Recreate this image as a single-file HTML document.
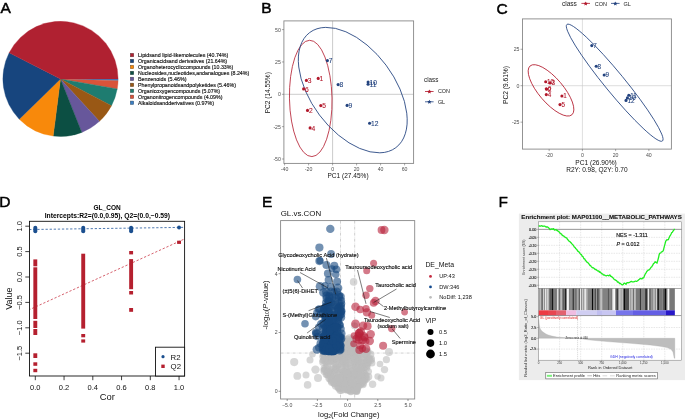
<!DOCTYPE html>
<html><head><meta charset="utf-8"><style>
html,body{margin:0;padding:0;background:#fff;width:685px;height:420px;overflow:hidden}
svg{display:block;font-family:"Liberation Sans", sans-serif;will-change:transform}
</style></head><body>
<svg width="685" height="420" viewBox="0 0 685 420">
<path d="M60.5,78.9 L118.10,78.90 A57.6,57.6 0 0 1 118.07,80.71 Z" fill="#3B7FC4" stroke="#3B7FC4" stroke-width="0.35" stroke-linejoin="round"/>
<path d="M60.5,78.9 L118.07,80.71 A57.6,57.6 0 0 1 117.22,88.90 Z" fill="#D9533A" stroke="#D9533A" stroke-width="0.35" stroke-linejoin="round"/>
<path d="M60.5,78.9 L117.22,88.90 A57.6,57.6 0 0 1 111.50,105.67 Z" fill="#1E7C70" stroke="#1E7C70" stroke-width="0.35" stroke-linejoin="round"/>
<path d="M60.5,78.9 L111.50,105.67 A57.6,57.6 0 0 1 99.41,121.37 Z" fill="#995815" stroke="#995815" stroke-width="0.35" stroke-linejoin="round"/>
<path d="M60.5,78.9 L99.41,121.37 A57.6,57.6 0 0 1 81.80,132.42 Z" fill="#67579B" stroke="#67579B" stroke-width="0.35" stroke-linejoin="round"/>
<path d="M60.5,78.9 L81.80,132.42 A57.6,57.6 0 0 1 53.18,136.03 Z" fill="#0C4F43" stroke="#0C4F43" stroke-width="0.35" stroke-linejoin="round"/>
<path d="M60.5,78.9 L53.18,136.03 A57.6,57.6 0 0 1 19.28,119.13 Z" fill="#F8890B" stroke="#F8890B" stroke-width="0.35" stroke-linejoin="round"/>
<path d="M60.5,78.9 L19.28,119.13 A57.6,57.6 0 0 1 9.18,52.75 Z" fill="#17457E" stroke="#17457E" stroke-width="0.35" stroke-linejoin="round"/>
<path d="M60.5,78.9 L9.18,52.75 A57.6,57.6 0 0 1 118.10,78.90 Z" fill="#B02131" stroke="#B02131" stroke-width="0.35" stroke-linejoin="round"/>
<text x="0.50" y="13.40" font-size="15.5" fill="#000" text-anchor="start" stroke="#000" stroke-width="0.5">A</text>
<rect x="130.2" y="53.25" width="3.6" height="3.6" fill="#B02131" stroke="#444" stroke-width="0.35"/>
<text x="138.00" y="56.85" font-size="5.1" fill="#111" text-anchor="start" stroke="#111" stroke-width="0.14" textLength="90.3" lengthAdjust="spacingAndGlyphs">Lipidsand lipid-likemolecules (40.74%)</text>
<rect x="130.2" y="59.22" width="3.6" height="3.6" fill="#17457E" stroke="#444" stroke-width="0.35"/>
<text x="138.00" y="62.82" font-size="5.1" fill="#111" text-anchor="start" stroke="#111" stroke-width="0.14" textLength="89.1" lengthAdjust="spacingAndGlyphs">Organicacidsand derivatives (21.64%)</text>
<rect x="130.2" y="65.19" width="3.6" height="3.6" fill="#F8890B" stroke="#444" stroke-width="0.35"/>
<text x="138.00" y="68.79" font-size="5.1" fill="#111" text-anchor="start" stroke="#111" stroke-width="0.14" textLength="95.2" lengthAdjust="spacingAndGlyphs">Organoheterocycliccompounds (10.33%)</text>
<rect x="130.2" y="71.16" width="3.6" height="3.6" fill="#0C4F43" stroke="#444" stroke-width="0.35"/>
<text x="138.00" y="74.76" font-size="5.1" fill="#111" text-anchor="start" stroke="#111" stroke-width="0.14" textLength="111.2" lengthAdjust="spacingAndGlyphs">Nucleosides,nucleotides,andanalogues (8.24%)</text>
<rect x="130.2" y="77.13" width="3.6" height="3.6" fill="#67579B" stroke="#444" stroke-width="0.35"/>
<text x="138.00" y="80.73" font-size="5.1" fill="#111" text-anchor="start" stroke="#111" stroke-width="0.14" textLength="48.6" lengthAdjust="spacingAndGlyphs">Benzenoids (5.46%)</text>
<rect x="130.2" y="83.10" width="3.6" height="3.6" fill="#995815" stroke="#444" stroke-width="0.35"/>
<text x="138.00" y="86.70" font-size="5.1" fill="#111" text-anchor="start" stroke="#111" stroke-width="0.14" textLength="97.9" lengthAdjust="spacingAndGlyphs">Phenylpropanoidsandpolyketides (5.46%)</text>
<rect x="130.2" y="89.07" width="3.6" height="3.6" fill="#1E7C70" stroke="#444" stroke-width="0.35"/>
<text x="138.00" y="92.67" font-size="5.1" fill="#111" text-anchor="start" stroke="#111" stroke-width="0.14" textLength="82.1" lengthAdjust="spacingAndGlyphs">Organicoxygencompounds (5.07%)</text>
<rect x="130.2" y="95.04" width="3.6" height="3.6" fill="#D9533A" stroke="#444" stroke-width="0.35"/>
<text x="138.00" y="98.64" font-size="5.1" fill="#111" text-anchor="start" stroke="#111" stroke-width="0.14" textLength="84.5" lengthAdjust="spacingAndGlyphs">Organonitrogencompounds (4.09%)</text>
<rect x="130.2" y="101.01" width="3.6" height="3.6" fill="#3B7FC4" stroke="#444" stroke-width="0.35"/>
<text x="138.00" y="104.61" font-size="5.1" fill="#111" text-anchor="start" stroke="#111" stroke-width="0.14" textLength="76.0" lengthAdjust="spacingAndGlyphs">Alkaloidsandderivatives (0.97%)</text>
<text x="261.20" y="13.10" font-size="15.5" fill="#000" text-anchor="start" stroke="#000" stroke-width="0.5">B</text>
<line x1="332.6" y1="20.9" x2="332.6" y2="163.4" stroke="#A8A8A8" stroke-width="0.6"/>
<line x1="283.9" y1="94.3" x2="413.6" y2="94.3" stroke="#A8A8A8" stroke-width="0.6"/>
<ellipse cx="310.73" cy="98.44" rx="21.28" ry="58.16" transform="rotate(-1.17 310.73 98.44)" fill="none" stroke="#B2182B" stroke-width="0.8"/>
<ellipse cx="352.76" cy="90.1" rx="71.89" ry="41.6" transform="rotate(53.2 352.76 90.1)" fill="none" stroke="#23437F" stroke-width="0.8"/>
<rect x="283.9" y="20.9" width="129.70000000000005" height="142.5" fill="none" stroke="#888" stroke-width="0.9"/>
<line x1="281.9" y1="29.60" x2="283.9" y2="29.60" stroke="#555" stroke-width="0.5"/>
<text x="280.90" y="31.50" font-size="5.2" fill="#4D4D4D" text-anchor="end">50</text>
<line x1="281.9" y1="61.95" x2="283.9" y2="61.95" stroke="#555" stroke-width="0.5"/>
<text x="280.90" y="63.85" font-size="5.2" fill="#4D4D4D" text-anchor="end">25</text>
<line x1="281.9" y1="94.30" x2="283.9" y2="94.30" stroke="#555" stroke-width="0.5"/>
<text x="280.90" y="96.20" font-size="5.2" fill="#4D4D4D" text-anchor="end">0</text>
<line x1="281.9" y1="126.65" x2="283.9" y2="126.65" stroke="#555" stroke-width="0.5"/>
<text x="280.90" y="128.55" font-size="5.2" fill="#4D4D4D" text-anchor="end">-25</text>
<line x1="281.9" y1="159.00" x2="283.9" y2="159.00" stroke="#555" stroke-width="0.5"/>
<text x="280.90" y="160.90" font-size="5.2" fill="#4D4D4D" text-anchor="end">-50</text>
<line x1="284.60" y1="163.4" x2="284.60" y2="165.4" stroke="#555" stroke-width="0.5"/>
<text x="284.60" y="171.40" font-size="5.2" fill="#4D4D4D" text-anchor="middle">-40</text>
<line x1="308.60" y1="163.4" x2="308.60" y2="165.4" stroke="#555" stroke-width="0.5"/>
<text x="308.60" y="171.40" font-size="5.2" fill="#4D4D4D" text-anchor="middle">-20</text>
<line x1="332.60" y1="163.4" x2="332.60" y2="165.4" stroke="#555" stroke-width="0.5"/>
<text x="332.60" y="171.40" font-size="5.2" fill="#4D4D4D" text-anchor="middle">0</text>
<line x1="356.60" y1="163.4" x2="356.60" y2="165.4" stroke="#555" stroke-width="0.5"/>
<text x="356.60" y="171.40" font-size="5.2" fill="#4D4D4D" text-anchor="middle">20</text>
<line x1="380.60" y1="163.4" x2="380.60" y2="165.4" stroke="#555" stroke-width="0.5"/>
<text x="380.60" y="171.40" font-size="5.2" fill="#4D4D4D" text-anchor="middle">40</text>
<line x1="404.60" y1="163.4" x2="404.60" y2="165.4" stroke="#555" stroke-width="0.5"/>
<text x="404.60" y="171.40" font-size="5.2" fill="#4D4D4D" text-anchor="middle">60</text>
<text x="348.00" y="178.00" font-size="6.6" fill="#111" text-anchor="middle" textLength="41.2" lengthAdjust="spacingAndGlyphs">PC1 (27.45%)</text>
<text x="270.40" y="92.70" font-size="6.6" fill="#111" text-anchor="middle" textLength="41.2" lengthAdjust="spacingAndGlyphs" transform="rotate(-90 270.40 92.70)">PC2 (14.55%)</text>
<circle cx="318.2" cy="78.4" r="1.55" fill="#B2182B"/>
<text x="319.60" y="81.00" font-size="6.7" fill="#B2182B" text-anchor="start" stroke="#B2182B" stroke-width="0.1">1</text>
<circle cx="307.5" cy="110.4" r="1.55" fill="#B2182B"/>
<text x="308.90" y="113.00" font-size="6.7" fill="#B2182B" text-anchor="start" stroke="#B2182B" stroke-width="0.1">2</text>
<circle cx="306.4" cy="80.4" r="1.55" fill="#B2182B"/>
<text x="307.80" y="83.00" font-size="6.7" fill="#B2182B" text-anchor="start" stroke="#B2182B" stroke-width="0.1">3</text>
<circle cx="310.1" cy="127.9" r="1.55" fill="#B2182B"/>
<text x="311.50" y="130.50" font-size="6.7" fill="#B2182B" text-anchor="start" stroke="#B2182B" stroke-width="0.1">4</text>
<circle cx="320.8" cy="105.6" r="1.55" fill="#B2182B"/>
<text x="322.20" y="108.20" font-size="6.7" fill="#B2182B" text-anchor="start" stroke="#B2182B" stroke-width="0.1">5</text>
<circle cx="303.6" cy="88.9" r="1.55" fill="#B2182B"/>
<text x="305.00" y="91.50" font-size="6.7" fill="#B2182B" text-anchor="start" stroke="#B2182B" stroke-width="0.1">6</text>
<circle cx="327.4" cy="60.6" r="1.55" fill="#23437F"/>
<text x="328.80" y="63.20" font-size="6.7" fill="#23437F" text-anchor="start" stroke="#23437F" stroke-width="0.1">7</text>
<circle cx="338.1" cy="84.6" r="1.55" fill="#23437F"/>
<text x="339.50" y="87.20" font-size="6.7" fill="#23437F" text-anchor="start" stroke="#23437F" stroke-width="0.1">8</text>
<circle cx="347.1" cy="105.4" r="1.55" fill="#23437F"/>
<text x="348.50" y="108.00" font-size="6.7" fill="#23437F" text-anchor="start" stroke="#23437F" stroke-width="0.1">9</text>
<circle cx="368.1" cy="82.0" r="1.55" fill="#23437F"/>
<text x="369.50" y="84.60" font-size="6.7" fill="#23437F" text-anchor="start" stroke="#23437F" stroke-width="0.1">10</text>
<circle cx="368.1" cy="84.2" r="1.55" fill="#23437F"/>
<text x="369.50" y="86.80" font-size="6.7" fill="#23437F" text-anchor="start" stroke="#23437F" stroke-width="0.1">11</text>
<circle cx="369.6" cy="123.2" r="1.55" fill="#23437F"/>
<text x="371.00" y="125.80" font-size="6.7" fill="#23437F" text-anchor="start" stroke="#23437F" stroke-width="0.1">12</text>
<text x="424.00" y="81.80" font-size="6.4" fill="#222" text-anchor="start" textLength="14.4" lengthAdjust="spacingAndGlyphs">class</text>
<line x1="425" y1="91.5" x2="433.6" y2="91.5" stroke="#B2182B" stroke-width="0.8"/>
<polygon points="429.40,89.40 430.05,90.81 431.59,90.99 430.45,92.04 430.75,93.56 429.40,92.80 428.05,93.56 428.35,92.04 427.21,90.99 428.75,90.81" fill="#B2182B"/>
<text x="437.90" y="93.45" font-size="5.4" fill="#222" text-anchor="start">CON</text>
<line x1="425" y1="101.8" x2="433.6" y2="101.8" stroke="#23437F" stroke-width="0.8"/>
<polygon points="429.40,99.70 430.05,101.11 431.59,101.29 430.45,102.34 430.75,103.86 429.40,103.10 428.05,103.86 428.35,102.34 427.21,101.29 428.75,101.11" fill="#23437F"/>
<text x="437.90" y="103.75" font-size="5.4" fill="#222" text-anchor="start">GL</text>
<text x="496.60" y="13.90" font-size="15.5" fill="#000" text-anchor="start" stroke="#000" stroke-width="0.5">C</text>
<line x1="582.4" y1="18.9" x2="582.4" y2="149.1" stroke="#C8C8C8" stroke-width="0.6"/>
<line x1="522.5" y1="85.7" x2="671.4" y2="85.7" stroke="#C8C8C8" stroke-width="0.6"/>
<ellipse cx="551.01" cy="90.36" rx="32.15" ry="12.22" transform="rotate(49.5 551.01 90.36)" fill="none" stroke="#B2182B" stroke-width="0.8"/>
<ellipse cx="614.69" cy="82.71" rx="75.34" ry="9.84" transform="rotate(50.64 614.69 82.71)" fill="none" stroke="#23437F" stroke-width="0.8"/>
<rect x="522.5" y="18.9" width="148.89999999999998" height="130.2" fill="none" stroke="#888" stroke-width="0.9"/>
<line x1="520.5" y1="49.25" x2="522.5" y2="49.25" stroke="#555" stroke-width="0.5"/>
<text x="519.50" y="51.15" font-size="5.2" fill="#4D4D4D" text-anchor="end">25</text>
<line x1="520.5" y1="85.70" x2="522.5" y2="85.70" stroke="#555" stroke-width="0.5"/>
<text x="519.50" y="87.60" font-size="5.2" fill="#4D4D4D" text-anchor="end">0</text>
<line x1="520.5" y1="122.15" x2="522.5" y2="122.15" stroke="#555" stroke-width="0.5"/>
<text x="519.50" y="124.05" font-size="5.2" fill="#4D4D4D" text-anchor="end">-25</text>
<line x1="549.16" y1="149.1" x2="549.16" y2="151.1" stroke="#555" stroke-width="0.5"/>
<text x="549.16" y="157.10" font-size="5.2" fill="#4D4D4D" text-anchor="middle">-20</text>
<line x1="582.40" y1="149.1" x2="582.40" y2="151.1" stroke="#555" stroke-width="0.5"/>
<text x="582.40" y="157.10" font-size="5.2" fill="#4D4D4D" text-anchor="middle">0</text>
<line x1="615.64" y1="149.1" x2="615.64" y2="151.1" stroke="#555" stroke-width="0.5"/>
<text x="615.64" y="157.10" font-size="5.2" fill="#4D4D4D" text-anchor="middle">20</text>
<line x1="648.88" y1="149.1" x2="648.88" y2="151.1" stroke="#555" stroke-width="0.5"/>
<text x="648.88" y="157.10" font-size="5.2" fill="#4D4D4D" text-anchor="middle">40</text>
<text x="596.00" y="165.10" font-size="6.6" fill="#111" text-anchor="middle" textLength="41.5" lengthAdjust="spacingAndGlyphs">PC1 (26.90%)</text>
<text x="596.90" y="172.20" font-size="6.6" fill="#111" text-anchor="middle" textLength="61.4" lengthAdjust="spacingAndGlyphs">R2Y: 0.98, Q2Y: 0.70</text>
<text x="507.60" y="85.00" font-size="6.6" fill="#111" text-anchor="middle" textLength="37.8" lengthAdjust="spacingAndGlyphs" transform="rotate(-90 507.60 85.00)">PC2 (9.61%)</text>
<circle cx="550.0" cy="82.9" r="1.55" fill="#B2182B"/>
<text x="551.40" y="85.25" font-size="6.3" fill="#B2182B" text-anchor="start" stroke="#B2182B" stroke-width="0.1">3</text>
<circle cx="545.7" cy="81.7" r="1.55" fill="#B2182B"/>
<text x="547.10" y="84.05" font-size="6.3" fill="#B2182B" text-anchor="start" stroke="#B2182B" stroke-width="0.1">10</text>
<circle cx="546.3" cy="88.7" r="1.55" fill="#B2182B"/>
<text x="547.70" y="91.05" font-size="6.3" fill="#B2182B" text-anchor="start" stroke="#B2182B" stroke-width="0.1">6</text>
<circle cx="546.6" cy="89.3" r="1.55" fill="#B2182B"/>
<text x="548.00" y="91.65" font-size="6.3" fill="#B2182B" text-anchor="start" stroke="#B2182B" stroke-width="0.1">2</text>
<circle cx="546.3" cy="94.6" r="1.55" fill="#B2182B"/>
<text x="547.70" y="96.95" font-size="6.3" fill="#B2182B" text-anchor="start" stroke="#B2182B" stroke-width="0.1">4</text>
<circle cx="561.9" cy="96.0" r="1.55" fill="#B2182B"/>
<text x="563.30" y="98.35" font-size="6.3" fill="#B2182B" text-anchor="start" stroke="#B2182B" stroke-width="0.1">1</text>
<circle cx="560.0" cy="104.6" r="1.55" fill="#B2182B"/>
<text x="561.40" y="106.95" font-size="6.3" fill="#B2182B" text-anchor="start" stroke="#B2182B" stroke-width="0.1">5</text>
<circle cx="591.8" cy="45.6" r="1.55" fill="#23437F"/>
<text x="593.20" y="47.95" font-size="6.3" fill="#23437F" text-anchor="start" stroke="#23437F" stroke-width="0.1">7</text>
<circle cx="596.2" cy="66.3" r="1.55" fill="#23437F"/>
<text x="597.60" y="68.65" font-size="6.3" fill="#23437F" text-anchor="start" stroke="#23437F" stroke-width="0.1">8</text>
<circle cx="604.2" cy="75.0" r="1.55" fill="#23437F"/>
<text x="605.60" y="77.35" font-size="6.3" fill="#23437F" text-anchor="start" stroke="#23437F" stroke-width="0.1">9</text>
<circle cx="628.8" cy="95.3" r="1.55" fill="#23437F"/>
<text x="630.20" y="97.65" font-size="6.3" fill="#23437F" text-anchor="start" stroke="#23437F" stroke-width="0.1">11</text>
<circle cx="627.4" cy="97.9" r="1.55" fill="#23437F"/>
<text x="628.80" y="100.25" font-size="6.3" fill="#23437F" text-anchor="start" stroke="#23437F" stroke-width="0.1">10</text>
<circle cx="626.0" cy="100.4" r="1.55" fill="#23437F"/>
<text x="627.40" y="102.75" font-size="6.3" fill="#23437F" text-anchor="start" stroke="#23437F" stroke-width="0.1">12</text>
<text x="561.90" y="5.80" font-size="6.6" fill="#222" text-anchor="start" textLength="15.0" lengthAdjust="spacingAndGlyphs">class</text>
<line x1="581.4" y1="3.4" x2="590.0" y2="3.4" stroke="#B2182B" stroke-width="0.8"/>
<polygon points="585.70,1.40 586.35,2.81 587.89,2.99 586.75,4.04 587.05,5.56 585.70,4.80 584.35,5.56 584.65,4.04 583.51,2.99 585.05,2.81" fill="#B2182B"/>
<text x="594.70" y="5.60" font-size="5.5" fill="#222" text-anchor="start">CON</text>
<line x1="611" y1="3.4" x2="619.6" y2="3.4" stroke="#23437F" stroke-width="0.8"/>
<polygon points="615.30,1.40 615.95,2.81 617.49,2.99 616.35,4.04 616.65,5.56 615.30,4.80 613.95,5.56 614.25,4.04 613.11,2.99 614.65,2.81" fill="#23437F"/>
<text x="623.60" y="5.60" font-size="5.5" fill="#222" text-anchor="start">GL</text>
<text x="-0.80" y="206.90" font-size="15.5" fill="#000" text-anchor="start" stroke="#000" stroke-width="0.5">D</text>
<text x="107.10" y="210.20" font-size="6.6" fill="#000" text-anchor="middle" font-weight="bold" textLength="27.2" lengthAdjust="spacingAndGlyphs">GL_CON</text>
<text x="107.40" y="217.70" font-size="6.6" fill="#000" text-anchor="middle" font-weight="bold" textLength="125.4" lengthAdjust="spacingAndGlyphs">Intercepts:R2=(0.0,0.95), Q2=(0.0,−0.59)</text>
<clipPath id="cd"><rect x="29.5" y="221.3" width="155.1" height="154.7"/></clipPath>
<line x1="20.92" y1="229.65" x2="193.43" y2="227.22" stroke="#3D6BA8" stroke-width="0.9" stroke-dasharray="2.3 1.8" clip-path="url(#cd)"/>
<line x1="20.92" y1="313.53" x2="193.43" y2="234.89" stroke="#D0505E" stroke-width="0.9" stroke-dasharray="2.3 1.8" clip-path="url(#cd)"/>
<rect x="33.35" y="259.40" width="3.9" height="6.90" fill="#B5202F"/>
<rect x="33.35" y="267.30" width="3.9" height="51.70" fill="#B5202F"/>
<rect x="33.35" y="320.80" width="3.9" height="7.20" fill="#B5202F"/>
<rect x="33.35" y="329.00" width="3.9" height="6.00" fill="#B5202F"/>
<rect x="33.35" y="353.30" width="3.9" height="4.70" fill="#B5202F"/>
<rect x="33.35" y="362.30" width="3.9" height="3.50" fill="#B5202F"/>
<rect x="33.35" y="368.80" width="3.9" height="3.40" fill="#B5202F"/>
<rect x="81.27" y="253.70" width="3.9" height="74.90" fill="#B5202F"/>
<rect x="81.27" y="334.00" width="3.9" height="3.30" fill="#B5202F"/>
<rect x="81.27" y="339.40" width="3.9" height="3.20" fill="#B5202F"/>
<rect x="129.18" y="251.00" width="3.9" height="3.40" fill="#B5202F"/>
<rect x="129.18" y="259.10" width="3.9" height="30.10" fill="#B5202F"/>
<rect x="129.18" y="291.00" width="3.9" height="3.50" fill="#B5202F"/>
<rect x="129.18" y="308.00" width="3.9" height="3.80" fill="#B5202F"/>
<rect x="177.10" y="240.70" width="3.9" height="3.20" fill="#B5202F"/>
<rect x="33.30" y="225.8" width="4.0" height="7.4" rx="2.0" fill="#1B4F8F"/>
<rect x="81.22" y="225.8" width="4.0" height="7.4" rx="2.0" fill="#1B4F8F"/>
<rect x="129.13" y="225.8" width="4.0" height="7.4" rx="2.0" fill="#1B4F8F"/>
<circle cx="179.05" cy="227.5" r="1.95" fill="#1B4F8F"/>
<rect x="29.5" y="221.3" width="155.1" height="154.7" fill="none" stroke="#111" stroke-width="0.9"/>
<rect x="155.5" y="347.2" width="29.099999999999994" height="28.80000000000001" fill="#fff" stroke="#111" stroke-width="0.9"/>
<circle cx="163" cy="356.7" r="1.6" fill="#1B4F8F"/>
<rect x="161.3" y="364.6" width="3.4" height="3.4" fill="#B5202F"/>
<text x="170.60" y="359.60" font-size="7.8" fill="#111" text-anchor="start">R2</text>
<text x="170.60" y="369.20" font-size="7.8" fill="#111" text-anchor="start">Q2</text>
<line x1="35.30" y1="376.0" x2="35.30" y2="380.2" stroke="#111" stroke-width="0.8"/>
<text x="35.30" y="389.80" font-size="7.5" fill="#111" text-anchor="middle">0.0</text>
<line x1="64.05" y1="376.0" x2="64.05" y2="380.2" stroke="#111" stroke-width="0.8"/>
<text x="64.05" y="389.80" font-size="7.5" fill="#111" text-anchor="middle">0.2</text>
<line x1="92.80" y1="376.0" x2="92.80" y2="380.2" stroke="#111" stroke-width="0.8"/>
<text x="92.80" y="389.80" font-size="7.5" fill="#111" text-anchor="middle">0.4</text>
<line x1="121.55" y1="376.0" x2="121.55" y2="380.2" stroke="#111" stroke-width="0.8"/>
<text x="121.55" y="389.80" font-size="7.5" fill="#111" text-anchor="middle">0.6</text>
<line x1="150.30" y1="376.0" x2="150.30" y2="380.2" stroke="#111" stroke-width="0.8"/>
<text x="150.30" y="389.80" font-size="7.5" fill="#111" text-anchor="middle">0.8</text>
<line x1="179.05" y1="376.0" x2="179.05" y2="380.2" stroke="#111" stroke-width="0.8"/>
<text x="179.05" y="389.80" font-size="7.5" fill="#111" text-anchor="middle">1.0</text>
<line x1="25.3" y1="226.20" x2="29.5" y2="226.20" stroke="#111" stroke-width="0.8"/>
<text x="21.90" y="226.20" font-size="7.5" fill="#111" text-anchor="middle" transform="rotate(-90 21.90 226.20)">1.0</text>
<line x1="25.3" y1="251.60" x2="29.5" y2="251.60" stroke="#111" stroke-width="0.8"/>
<text x="21.90" y="251.60" font-size="7.5" fill="#111" text-anchor="middle" transform="rotate(-90 21.90 251.60)">0.5</text>
<line x1="25.3" y1="277.00" x2="29.5" y2="277.00" stroke="#111" stroke-width="0.8"/>
<text x="21.90" y="277.00" font-size="7.5" fill="#111" text-anchor="middle" transform="rotate(-90 21.90 277.00)">0.0</text>
<line x1="25.3" y1="302.40" x2="29.5" y2="302.40" stroke="#111" stroke-width="0.8"/>
<text x="21.90" y="302.40" font-size="7.5" fill="#111" text-anchor="middle" transform="rotate(-90 21.90 302.40)">−0.5</text>
<line x1="25.3" y1="327.80" x2="29.5" y2="327.80" stroke="#111" stroke-width="0.8"/>
<text x="21.90" y="327.80" font-size="7.5" fill="#111" text-anchor="middle" transform="rotate(-90 21.90 327.80)">−1.0</text>
<line x1="25.3" y1="353.20" x2="29.5" y2="353.20" stroke="#111" stroke-width="0.8"/>
<text x="21.90" y="353.20" font-size="7.5" fill="#111" text-anchor="middle" transform="rotate(-90 21.90 353.20)">−1.5</text>
<text x="107.30" y="399.70" font-size="9.4" fill="#111" text-anchor="middle">Cor</text>
<text x="12.00" y="298.60" font-size="9.0" fill="#111" text-anchor="middle" transform="rotate(-90 12.00 298.60)">Value</text>
<text x="262.00" y="206.90" font-size="15.5" fill="#000" text-anchor="start" stroke="#000" stroke-width="0.5">E</text>
<text x="280.70" y="215.80" font-size="8.1" fill="#111" text-anchor="start" textLength="40.4" lengthAdjust="spacingAndGlyphs">GL.vs.CON</text>
<clipPath id="ce"><rect x="280.6" y="220.6" width="134.1" height="178.4"/></clipPath>
<g clip-path="url(#ce)">
<line x1="340.53" y1="220.6" x2="340.53" y2="399.0" stroke="#B0B0B0" stroke-width="0.6" stroke-dasharray="3 1.2 0.6 1.2"/>
<line x1="354.67" y1="220.6" x2="354.67" y2="399.0" stroke="#B0B0B0" stroke-width="0.6" stroke-dasharray="3 1.2 0.6 1.2"/>
<line x1="280.6" y1="353.05" x2="414.7" y2="353.05" stroke="#B0B0B0" stroke-width="0.6" stroke-dasharray="3 1.2 0.6 1.2"/>
<circle cx="350.4" cy="368.5" r="3.7" fill="#BDBDBD" fill-opacity="0.6"/>
<circle cx="347.6" cy="387.9" r="3.9" fill="#BDBDBD" fill-opacity="0.6"/>
<circle cx="351.8" cy="370.8" r="4.0" fill="#BDBDBD" fill-opacity="0.6"/>
<circle cx="347.5" cy="357.6" r="3.6" fill="#BDBDBD" fill-opacity="0.6"/>
<circle cx="360.4" cy="375.8" r="3.6" fill="#BDBDBD" fill-opacity="0.6"/>
<circle cx="337.1" cy="353.9" r="3.3" fill="#BDBDBD" fill-opacity="0.6"/>
<circle cx="361.7" cy="353.7" r="3.9" fill="#BDBDBD" fill-opacity="0.6"/>
<circle cx="329.5" cy="378.4" r="4.2" fill="#BDBDBD" fill-opacity="0.6"/>
<circle cx="356.7" cy="390.3" r="3.6" fill="#BDBDBD" fill-opacity="0.6"/>
<circle cx="352.7" cy="376.8" r="3.4" fill="#BDBDBD" fill-opacity="0.6"/>
<circle cx="322.6" cy="356.5" r="3.4" fill="#BDBDBD" fill-opacity="0.6"/>
<circle cx="326.7" cy="371.7" r="3.6" fill="#BDBDBD" fill-opacity="0.6"/>
<circle cx="334.0" cy="357.8" r="3.5" fill="#BDBDBD" fill-opacity="0.6"/>
<circle cx="344.9" cy="351.2" r="4.2" fill="#BDBDBD" fill-opacity="0.6"/>
<circle cx="364.2" cy="368.1" r="3.3" fill="#BDBDBD" fill-opacity="0.6"/>
<circle cx="354.3" cy="371.3" r="3.5" fill="#BDBDBD" fill-opacity="0.6"/>
<circle cx="355.4" cy="370.5" r="3.3" fill="#BDBDBD" fill-opacity="0.6"/>
<circle cx="336.5" cy="368.8" r="3.8" fill="#BDBDBD" fill-opacity="0.6"/>
<circle cx="356.6" cy="390.9" r="4.0" fill="#BDBDBD" fill-opacity="0.6"/>
<circle cx="354.4" cy="384.4" r="3.4" fill="#BDBDBD" fill-opacity="0.6"/>
<circle cx="333.8" cy="362.9" r="3.3" fill="#BDBDBD" fill-opacity="0.6"/>
<circle cx="325.8" cy="361.9" r="3.7" fill="#BDBDBD" fill-opacity="0.6"/>
<circle cx="344.6" cy="381.4" r="3.8" fill="#BDBDBD" fill-opacity="0.6"/>
<circle cx="344.9" cy="384.7" r="4.1" fill="#BDBDBD" fill-opacity="0.6"/>
<circle cx="355.3" cy="389.3" r="3.2" fill="#BDBDBD" fill-opacity="0.6"/>
<circle cx="333.7" cy="350.0" r="3.3" fill="#BDBDBD" fill-opacity="0.6"/>
<circle cx="347.6" cy="387.3" r="3.4" fill="#BDBDBD" fill-opacity="0.6"/>
<circle cx="346.7" cy="390.2" r="3.4" fill="#BDBDBD" fill-opacity="0.6"/>
<circle cx="352.8" cy="353.0" r="3.4" fill="#BDBDBD" fill-opacity="0.6"/>
<circle cx="340.2" cy="381.9" r="3.9" fill="#BDBDBD" fill-opacity="0.6"/>
<circle cx="338.6" cy="353.6" r="3.8" fill="#BDBDBD" fill-opacity="0.6"/>
<circle cx="353.4" cy="389.5" r="3.4" fill="#BDBDBD" fill-opacity="0.6"/>
<circle cx="334.1" cy="354.8" r="3.4" fill="#BDBDBD" fill-opacity="0.6"/>
<circle cx="325.2" cy="354.1" r="3.5" fill="#BDBDBD" fill-opacity="0.6"/>
<circle cx="337.5" cy="382.7" r="3.4" fill="#BDBDBD" fill-opacity="0.6"/>
<circle cx="345.2" cy="372.9" r="4.0" fill="#BDBDBD" fill-opacity="0.6"/>
<circle cx="358.4" cy="357.8" r="3.5" fill="#BDBDBD" fill-opacity="0.6"/>
<circle cx="354.0" cy="355.4" r="3.7" fill="#BDBDBD" fill-opacity="0.6"/>
<circle cx="342.8" cy="354.8" r="4.0" fill="#BDBDBD" fill-opacity="0.6"/>
<circle cx="335.5" cy="358.7" r="3.7" fill="#BDBDBD" fill-opacity="0.6"/>
<circle cx="354.1" cy="389.8" r="3.5" fill="#BDBDBD" fill-opacity="0.6"/>
<circle cx="366.2" cy="362.5" r="4.1" fill="#BDBDBD" fill-opacity="0.6"/>
<circle cx="341.7" cy="358.6" r="4.1" fill="#BDBDBD" fill-opacity="0.6"/>
<circle cx="352.4" cy="385.0" r="3.5" fill="#BDBDBD" fill-opacity="0.6"/>
<circle cx="370.7" cy="354.1" r="3.7" fill="#BDBDBD" fill-opacity="0.6"/>
<circle cx="334.9" cy="358.7" r="4.2" fill="#BDBDBD" fill-opacity="0.6"/>
<circle cx="342.2" cy="381.7" r="3.7" fill="#BDBDBD" fill-opacity="0.6"/>
<circle cx="326.0" cy="362.1" r="3.4" fill="#BDBDBD" fill-opacity="0.6"/>
<circle cx="350.7" cy="353.7" r="3.2" fill="#BDBDBD" fill-opacity="0.6"/>
<circle cx="352.0" cy="360.0" r="4.1" fill="#BDBDBD" fill-opacity="0.6"/>
<circle cx="345.0" cy="365.2" r="4.0" fill="#BDBDBD" fill-opacity="0.6"/>
<circle cx="348.1" cy="389.3" r="3.6" fill="#BDBDBD" fill-opacity="0.6"/>
<circle cx="364.3" cy="373.6" r="3.7" fill="#BDBDBD" fill-opacity="0.6"/>
<circle cx="329.6" cy="357.5" r="3.7" fill="#BDBDBD" fill-opacity="0.6"/>
<circle cx="356.0" cy="387.2" r="3.5" fill="#BDBDBD" fill-opacity="0.6"/>
<circle cx="331.6" cy="360.2" r="4.2" fill="#BDBDBD" fill-opacity="0.6"/>
<circle cx="364.3" cy="380.3" r="3.9" fill="#BDBDBD" fill-opacity="0.6"/>
<circle cx="369.3" cy="358.1" r="3.4" fill="#BDBDBD" fill-opacity="0.6"/>
<circle cx="351.0" cy="386.2" r="3.2" fill="#BDBDBD" fill-opacity="0.6"/>
<circle cx="327.9" cy="367.3" r="3.7" fill="#BDBDBD" fill-opacity="0.6"/>
<circle cx="367.8" cy="351.6" r="3.6" fill="#BDBDBD" fill-opacity="0.6"/>
<circle cx="357.2" cy="359.8" r="4.0" fill="#BDBDBD" fill-opacity="0.6"/>
<circle cx="363.1" cy="360.5" r="3.9" fill="#BDBDBD" fill-opacity="0.6"/>
<circle cx="338.5" cy="374.5" r="3.8" fill="#BDBDBD" fill-opacity="0.6"/>
<circle cx="357.8" cy="357.2" r="3.4" fill="#BDBDBD" fill-opacity="0.6"/>
<circle cx="333.8" cy="352.8" r="3.4" fill="#BDBDBD" fill-opacity="0.6"/>
<circle cx="363.9" cy="372.9" r="3.5" fill="#BDBDBD" fill-opacity="0.6"/>
<circle cx="338.1" cy="375.2" r="3.5" fill="#BDBDBD" fill-opacity="0.6"/>
<circle cx="341.5" cy="387.6" r="4.1" fill="#BDBDBD" fill-opacity="0.6"/>
<circle cx="336.2" cy="350.7" r="3.7" fill="#BDBDBD" fill-opacity="0.6"/>
<circle cx="325.8" cy="368.3" r="3.8" fill="#BDBDBD" fill-opacity="0.6"/>
<circle cx="340.3" cy="357.2" r="4.2" fill="#BDBDBD" fill-opacity="0.6"/>
<circle cx="330.9" cy="373.5" r="3.5" fill="#BDBDBD" fill-opacity="0.6"/>
<circle cx="366.5" cy="364.8" r="3.7" fill="#BDBDBD" fill-opacity="0.6"/>
<circle cx="351.3" cy="390.2" r="3.4" fill="#BDBDBD" fill-opacity="0.6"/>
<circle cx="351.3" cy="378.3" r="4.0" fill="#BDBDBD" fill-opacity="0.6"/>
<circle cx="323.6" cy="355.8" r="3.2" fill="#BDBDBD" fill-opacity="0.6"/>
<circle cx="364.9" cy="350.7" r="4.0" fill="#BDBDBD" fill-opacity="0.6"/>
<circle cx="366.3" cy="378.7" r="4.0" fill="#BDBDBD" fill-opacity="0.6"/>
<circle cx="352.7" cy="350.9" r="4.0" fill="#BDBDBD" fill-opacity="0.6"/>
<circle cx="358.8" cy="369.8" r="3.3" fill="#BDBDBD" fill-opacity="0.6"/>
<circle cx="371.9" cy="363.1" r="3.5" fill="#BDBDBD" fill-opacity="0.6"/>
<circle cx="348.9" cy="353.1" r="3.9" fill="#BDBDBD" fill-opacity="0.6"/>
<circle cx="362.9" cy="380.2" r="3.3" fill="#BDBDBD" fill-opacity="0.6"/>
<circle cx="355.6" cy="380.2" r="3.7" fill="#BDBDBD" fill-opacity="0.6"/>
<circle cx="361.9" cy="382.5" r="3.7" fill="#BDBDBD" fill-opacity="0.6"/>
<circle cx="356.4" cy="364.4" r="4.2" fill="#BDBDBD" fill-opacity="0.6"/>
<circle cx="357.6" cy="386.9" r="3.8" fill="#BDBDBD" fill-opacity="0.6"/>
<circle cx="361.6" cy="367.1" r="4.1" fill="#BDBDBD" fill-opacity="0.6"/>
<circle cx="350.3" cy="385.4" r="3.5" fill="#BDBDBD" fill-opacity="0.6"/>
<circle cx="342.7" cy="375.6" r="4.0" fill="#BDBDBD" fill-opacity="0.6"/>
<circle cx="352.6" cy="373.9" r="3.6" fill="#BDBDBD" fill-opacity="0.6"/>
<circle cx="353.3" cy="353.3" r="4.1" fill="#BDBDBD" fill-opacity="0.6"/>
<circle cx="354.8" cy="390.7" r="3.3" fill="#BDBDBD" fill-opacity="0.6"/>
<circle cx="343.8" cy="379.9" r="4.0" fill="#BDBDBD" fill-opacity="0.6"/>
<circle cx="351.0" cy="380.1" r="3.4" fill="#BDBDBD" fill-opacity="0.6"/>
<circle cx="364.0" cy="368.1" r="3.7" fill="#BDBDBD" fill-opacity="0.6"/>
<circle cx="358.7" cy="353.4" r="3.7" fill="#BDBDBD" fill-opacity="0.6"/>
<circle cx="351.2" cy="351.2" r="3.4" fill="#BDBDBD" fill-opacity="0.6"/>
<circle cx="334.3" cy="369.7" r="4.0" fill="#BDBDBD" fill-opacity="0.6"/>
<circle cx="347.8" cy="378.6" r="3.5" fill="#BDBDBD" fill-opacity="0.6"/>
<circle cx="366.2" cy="375.2" r="3.5" fill="#BDBDBD" fill-opacity="0.6"/>
<circle cx="322.8" cy="360.5" r="3.3" fill="#BDBDBD" fill-opacity="0.6"/>
<circle cx="355.9" cy="362.3" r="3.5" fill="#BDBDBD" fill-opacity="0.6"/>
<circle cx="330.5" cy="358.3" r="3.7" fill="#BDBDBD" fill-opacity="0.6"/>
<circle cx="352.3" cy="387.1" r="3.9" fill="#BDBDBD" fill-opacity="0.6"/>
<circle cx="366.6" cy="368.1" r="3.6" fill="#BDBDBD" fill-opacity="0.6"/>
<circle cx="355.4" cy="363.4" r="3.9" fill="#BDBDBD" fill-opacity="0.6"/>
<circle cx="343.5" cy="358.1" r="3.3" fill="#BDBDBD" fill-opacity="0.6"/>
<circle cx="361.6" cy="383.0" r="3.6" fill="#BDBDBD" fill-opacity="0.6"/>
<circle cx="345.2" cy="386.1" r="3.7" fill="#BDBDBD" fill-opacity="0.6"/>
<circle cx="339.4" cy="373.9" r="4.2" fill="#BDBDBD" fill-opacity="0.6"/>
<circle cx="346.6" cy="355.6" r="4.0" fill="#BDBDBD" fill-opacity="0.6"/>
<circle cx="358.7" cy="384.3" r="3.9" fill="#BDBDBD" fill-opacity="0.6"/>
<circle cx="365.5" cy="379.2" r="3.2" fill="#BDBDBD" fill-opacity="0.6"/>
<circle cx="330.7" cy="361.3" r="3.6" fill="#BDBDBD" fill-opacity="0.6"/>
<circle cx="336.4" cy="368.5" r="3.9" fill="#BDBDBD" fill-opacity="0.6"/>
<circle cx="342.7" cy="358.8" r="3.4" fill="#BDBDBD" fill-opacity="0.6"/>
<circle cx="347.5" cy="375.7" r="3.8" fill="#BDBDBD" fill-opacity="0.6"/>
<circle cx="363.9" cy="362.9" r="3.7" fill="#BDBDBD" fill-opacity="0.6"/>
<circle cx="347.7" cy="390.3" r="3.2" fill="#BDBDBD" fill-opacity="0.6"/>
<circle cx="324.3" cy="353.1" r="4.2" fill="#BDBDBD" fill-opacity="0.6"/>
<circle cx="335.8" cy="385.8" r="4.0" fill="#BDBDBD" fill-opacity="0.6"/>
<circle cx="350.7" cy="379.1" r="3.4" fill="#BDBDBD" fill-opacity="0.6"/>
<circle cx="361.6" cy="362.7" r="3.8" fill="#BDBDBD" fill-opacity="0.6"/>
<circle cx="330.2" cy="350.8" r="3.5" fill="#BDBDBD" fill-opacity="0.6"/>
<circle cx="324.1" cy="368.6" r="3.6" fill="#BDBDBD" fill-opacity="0.6"/>
<circle cx="340.1" cy="384.0" r="3.7" fill="#BDBDBD" fill-opacity="0.6"/>
<circle cx="324.2" cy="355.8" r="3.5" fill="#BDBDBD" fill-opacity="0.6"/>
<circle cx="345.5" cy="375.8" r="3.5" fill="#BDBDBD" fill-opacity="0.6"/>
<circle cx="354.5" cy="375.8" r="3.6" fill="#BDBDBD" fill-opacity="0.6"/>
<circle cx="362.9" cy="383.1" r="3.9" fill="#BDBDBD" fill-opacity="0.6"/>
<circle cx="335.6" cy="378.1" r="3.5" fill="#BDBDBD" fill-opacity="0.6"/>
<circle cx="331.7" cy="369.5" r="3.4" fill="#BDBDBD" fill-opacity="0.6"/>
<circle cx="345.3" cy="350.4" r="3.9" fill="#BDBDBD" fill-opacity="0.6"/>
<circle cx="335.5" cy="379.3" r="3.5" fill="#BDBDBD" fill-opacity="0.6"/>
<circle cx="339.4" cy="361.2" r="4.1" fill="#BDBDBD" fill-opacity="0.6"/>
<circle cx="348.7" cy="378.6" r="3.8" fill="#BDBDBD" fill-opacity="0.6"/>
<circle cx="359.0" cy="375.2" r="3.9" fill="#BDBDBD" fill-opacity="0.6"/>
<circle cx="361.7" cy="366.1" r="3.5" fill="#BDBDBD" fill-opacity="0.6"/>
<circle cx="338.3" cy="387.2" r="4.0" fill="#BDBDBD" fill-opacity="0.6"/>
<circle cx="353.3" cy="388.2" r="3.3" fill="#BDBDBD" fill-opacity="0.6"/>
<circle cx="344.4" cy="355.3" r="3.3" fill="#BDBDBD" fill-opacity="0.6"/>
<circle cx="365.6" cy="375.6" r="3.3" fill="#BDBDBD" fill-opacity="0.6"/>
<circle cx="350.7" cy="365.4" r="3.9" fill="#BDBDBD" fill-opacity="0.6"/>
<circle cx="356.2" cy="386.1" r="3.9" fill="#BDBDBD" fill-opacity="0.6"/>
<circle cx="347.7" cy="388.7" r="3.4" fill="#BDBDBD" fill-opacity="0.6"/>
<circle cx="335.4" cy="376.7" r="3.6" fill="#BDBDBD" fill-opacity="0.6"/>
<circle cx="360.2" cy="379.6" r="4.0" fill="#BDBDBD" fill-opacity="0.6"/>
<circle cx="357.1" cy="376.3" r="3.8" fill="#BDBDBD" fill-opacity="0.6"/>
<circle cx="366.8" cy="358.7" r="3.3" fill="#BDBDBD" fill-opacity="0.6"/>
<circle cx="357.0" cy="390.2" r="3.4" fill="#BDBDBD" fill-opacity="0.6"/>
<circle cx="361.3" cy="372.0" r="3.4" fill="#BDBDBD" fill-opacity="0.6"/>
<circle cx="367.4" cy="363.1" r="3.3" fill="#BDBDBD" fill-opacity="0.6"/>
<circle cx="343.9" cy="385.1" r="3.6" fill="#BDBDBD" fill-opacity="0.6"/>
<circle cx="343.8" cy="353.4" r="3.3" fill="#BDBDBD" fill-opacity="0.6"/>
<circle cx="360.1" cy="372.6" r="4.1" fill="#BDBDBD" fill-opacity="0.6"/>
<circle cx="324.4" cy="370.0" r="3.6" fill="#BDBDBD" fill-opacity="0.6"/>
<circle cx="334.2" cy="383.2" r="3.7" fill="#BDBDBD" fill-opacity="0.6"/>
<circle cx="337.4" cy="382.8" r="3.8" fill="#BDBDBD" fill-opacity="0.6"/>
<circle cx="361.4" cy="363.7" r="4.0" fill="#BDBDBD" fill-opacity="0.6"/>
<circle cx="329.2" cy="355.8" r="4.0" fill="#BDBDBD" fill-opacity="0.6"/>
<circle cx="358.3" cy="371.2" r="3.6" fill="#BDBDBD" fill-opacity="0.6"/>
<circle cx="353.9" cy="384.4" r="3.5" fill="#BDBDBD" fill-opacity="0.6"/>
<circle cx="348.3" cy="388.8" r="3.6" fill="#BDBDBD" fill-opacity="0.6"/>
<circle cx="340.0" cy="388.9" r="3.2" fill="#BDBDBD" fill-opacity="0.6"/>
<circle cx="348.3" cy="359.1" r="3.6" fill="#BDBDBD" fill-opacity="0.6"/>
<circle cx="358.4" cy="361.9" r="3.9" fill="#BDBDBD" fill-opacity="0.6"/>
<circle cx="348.8" cy="376.2" r="4.2" fill="#BDBDBD" fill-opacity="0.6"/>
<circle cx="350.0" cy="384.6" r="4.0" fill="#BDBDBD" fill-opacity="0.6"/>
<circle cx="341.3" cy="362.8" r="3.9" fill="#BDBDBD" fill-opacity="0.6"/>
<circle cx="360.1" cy="384.7" r="3.8" fill="#BDBDBD" fill-opacity="0.6"/>
<circle cx="364.4" cy="358.5" r="3.2" fill="#BDBDBD" fill-opacity="0.6"/>
<circle cx="348.9" cy="389.7" r="3.5" fill="#BDBDBD" fill-opacity="0.6"/>
<circle cx="334.1" cy="373.5" r="3.5" fill="#BDBDBD" fill-opacity="0.6"/>
<circle cx="347.7" cy="372.0" r="3.9" fill="#BDBDBD" fill-opacity="0.6"/>
<circle cx="326.9" cy="374.8" r="3.3" fill="#BDBDBD" fill-opacity="0.6"/>
<circle cx="348.8" cy="389.7" r="3.6" fill="#BDBDBD" fill-opacity="0.6"/>
<circle cx="362.1" cy="366.4" r="3.7" fill="#BDBDBD" fill-opacity="0.6"/>
<circle cx="347.2" cy="373.1" r="4.0" fill="#BDBDBD" fill-opacity="0.6"/>
<circle cx="330.4" cy="378.3" r="4.0" fill="#BDBDBD" fill-opacity="0.6"/>
<circle cx="343.6" cy="372.1" r="3.8" fill="#BDBDBD" fill-opacity="0.6"/>
<circle cx="356.9" cy="389.2" r="3.4" fill="#BDBDBD" fill-opacity="0.6"/>
<circle cx="345.7" cy="361.0" r="4.0" fill="#BDBDBD" fill-opacity="0.6"/>
<circle cx="343.4" cy="355.2" r="4.1" fill="#BDBDBD" fill-opacity="0.6"/>
<circle cx="360.9" cy="383.4" r="3.7" fill="#BDBDBD" fill-opacity="0.6"/>
<circle cx="338.5" cy="369.5" r="3.6" fill="#BDBDBD" fill-opacity="0.6"/>
<circle cx="352.8" cy="357.8" r="3.7" fill="#BDBDBD" fill-opacity="0.6"/>
<circle cx="340.0" cy="387.9" r="3.3" fill="#BDBDBD" fill-opacity="0.6"/>
<circle cx="331.8" cy="382.0" r="3.9" fill="#BDBDBD" fill-opacity="0.6"/>
<circle cx="333.3" cy="358.0" r="4.2" fill="#BDBDBD" fill-opacity="0.6"/>
<circle cx="340.7" cy="378.2" r="3.7" fill="#BDBDBD" fill-opacity="0.6"/>
<circle cx="353.1" cy="364.6" r="3.9" fill="#BDBDBD" fill-opacity="0.6"/>
<circle cx="358.1" cy="354.3" r="4.0" fill="#BDBDBD" fill-opacity="0.6"/>
<circle cx="347.3" cy="355.0" r="3.4" fill="#BDBDBD" fill-opacity="0.6"/>
<circle cx="332.0" cy="360.3" r="4.1" fill="#BDBDBD" fill-opacity="0.6"/>
<circle cx="344.6" cy="371.7" r="3.8" fill="#BDBDBD" fill-opacity="0.6"/>
<circle cx="343.0" cy="365.4" r="3.4" fill="#BDBDBD" fill-opacity="0.6"/>
<circle cx="331.5" cy="371.7" r="3.3" fill="#BDBDBD" fill-opacity="0.6"/>
<circle cx="353.5" cy="358.4" r="3.4" fill="#BDBDBD" fill-opacity="0.6"/>
<circle cx="349.1" cy="376.2" r="3.8" fill="#BDBDBD" fill-opacity="0.6"/>
<circle cx="351.5" cy="384.9" r="3.9" fill="#BDBDBD" fill-opacity="0.6"/>
<circle cx="340.6" cy="385.1" r="3.5" fill="#BDBDBD" fill-opacity="0.6"/>
<circle cx="359.5" cy="380.4" r="4.1" fill="#BDBDBD" fill-opacity="0.6"/>
<circle cx="343.8" cy="387.0" r="3.6" fill="#BDBDBD" fill-opacity="0.6"/>
<circle cx="368.1" cy="362.9" r="3.7" fill="#BDBDBD" fill-opacity="0.6"/>
<circle cx="371.7" cy="358.9" r="3.3" fill="#BDBDBD" fill-opacity="0.6"/>
<circle cx="338.8" cy="386.4" r="4.2" fill="#BDBDBD" fill-opacity="0.6"/>
<circle cx="358.2" cy="359.8" r="3.3" fill="#BDBDBD" fill-opacity="0.6"/>
<circle cx="327.0" cy="360.6" r="4.1" fill="#BDBDBD" fill-opacity="0.6"/>
<circle cx="345.8" cy="384.1" r="3.7" fill="#BDBDBD" fill-opacity="0.6"/>
<circle cx="335.6" cy="382.4" r="3.8" fill="#BDBDBD" fill-opacity="0.6"/>
<circle cx="356.4" cy="366.5" r="3.8" fill="#BDBDBD" fill-opacity="0.6"/>
<circle cx="333.1" cy="350.7" r="3.5" fill="#BDBDBD" fill-opacity="0.6"/>
<circle cx="364.8" cy="378.0" r="4.1" fill="#BDBDBD" fill-opacity="0.6"/>
<circle cx="341.3" cy="389.7" r="4.2" fill="#BDBDBD" fill-opacity="0.6"/>
<circle cx="360.0" cy="370.7" r="4.0" fill="#BDBDBD" fill-opacity="0.6"/>
<circle cx="356.5" cy="370.6" r="3.8" fill="#BDBDBD" fill-opacity="0.6"/>
<circle cx="325.5" cy="357.7" r="3.3" fill="#BDBDBD" fill-opacity="0.6"/>
<circle cx="323.9" cy="354.4" r="4.0" fill="#BDBDBD" fill-opacity="0.6"/>
<circle cx="348.3" cy="372.6" r="3.5" fill="#BDBDBD" fill-opacity="0.6"/>
<circle cx="331.5" cy="373.3" r="4.1" fill="#BDBDBD" fill-opacity="0.6"/>
<circle cx="332.1" cy="357.6" r="3.4" fill="#BDBDBD" fill-opacity="0.6"/>
<circle cx="362.9" cy="384.4" r="3.8" fill="#BDBDBD" fill-opacity="0.6"/>
<circle cx="339.3" cy="388.0" r="4.0" fill="#BDBDBD" fill-opacity="0.6"/>
<circle cx="367.9" cy="352.5" r="3.4" fill="#BDBDBD" fill-opacity="0.6"/>
<circle cx="360.4" cy="368.9" r="3.7" fill="#BDBDBD" fill-opacity="0.6"/>
<circle cx="345.5" cy="363.4" r="3.3" fill="#BDBDBD" fill-opacity="0.6"/>
<circle cx="344.2" cy="371.1" r="3.2" fill="#BDBDBD" fill-opacity="0.6"/>
<circle cx="326.1" cy="374.6" r="3.4" fill="#BDBDBD" fill-opacity="0.6"/>
<circle cx="361.6" cy="378.7" r="4.2" fill="#BDBDBD" fill-opacity="0.6"/>
<circle cx="344.6" cy="357.4" r="4.1" fill="#BDBDBD" fill-opacity="0.6"/>
<circle cx="344.5" cy="380.3" r="3.9" fill="#BDBDBD" fill-opacity="0.6"/>
<circle cx="330.2" cy="358.0" r="3.5" fill="#BDBDBD" fill-opacity="0.6"/>
<circle cx="324.3" cy="371.0" r="3.9" fill="#BDBDBD" fill-opacity="0.6"/>
<circle cx="356.0" cy="386.6" r="3.9" fill="#BDBDBD" fill-opacity="0.6"/>
<circle cx="362.2" cy="378.9" r="3.6" fill="#BDBDBD" fill-opacity="0.6"/>
<circle cx="343.7" cy="375.8" r="3.8" fill="#BDBDBD" fill-opacity="0.6"/>
<circle cx="347.9" cy="374.6" r="4.0" fill="#BDBDBD" fill-opacity="0.6"/>
<circle cx="353.9" cy="390.3" r="3.2" fill="#BDBDBD" fill-opacity="0.6"/>
<circle cx="367.4" cy="360.6" r="3.4" fill="#BDBDBD" fill-opacity="0.6"/>
<circle cx="358.2" cy="380.5" r="3.7" fill="#BDBDBD" fill-opacity="0.6"/>
<circle cx="345.2" cy="383.4" r="3.3" fill="#BDBDBD" fill-opacity="0.6"/>
<circle cx="357.9" cy="386.8" r="3.6" fill="#BDBDBD" fill-opacity="0.6"/>
<circle cx="358.7" cy="378.5" r="3.8" fill="#BDBDBD" fill-opacity="0.6"/>
<circle cx="344.7" cy="381.4" r="3.4" fill="#BDBDBD" fill-opacity="0.6"/>
<circle cx="331.6" cy="379.6" r="3.7" fill="#BDBDBD" fill-opacity="0.6"/>
<circle cx="345.7" cy="364.0" r="3.5" fill="#BDBDBD" fill-opacity="0.6"/>
<circle cx="340.1" cy="350.4" r="3.8" fill="#BDBDBD" fill-opacity="0.6"/>
<circle cx="353.1" cy="376.2" r="3.5" fill="#BDBDBD" fill-opacity="0.6"/>
<circle cx="369.1" cy="359.5" r="3.8" fill="#BDBDBD" fill-opacity="0.6"/>
<circle cx="341.1" cy="377.3" r="3.2" fill="#BDBDBD" fill-opacity="0.6"/>
<circle cx="350.8" cy="377.1" r="3.9" fill="#BDBDBD" fill-opacity="0.6"/>
<circle cx="342.4" cy="371.9" r="3.3" fill="#BDBDBD" fill-opacity="0.6"/>
<circle cx="350.8" cy="391.0" r="4.2" fill="#BDBDBD" fill-opacity="0.6"/>
<circle cx="358.3" cy="378.8" r="3.8" fill="#BDBDBD" fill-opacity="0.6"/>
<circle cx="340.0" cy="390.2" r="3.7" fill="#BDBDBD" fill-opacity="0.6"/>
<circle cx="358.2" cy="375.2" r="3.6" fill="#BDBDBD" fill-opacity="0.6"/>
<circle cx="342.1" cy="360.5" r="3.8" fill="#BDBDBD" fill-opacity="0.6"/>
<circle cx="332.4" cy="352.1" r="3.9" fill="#BDBDBD" fill-opacity="0.6"/>
<circle cx="327.5" cy="365.4" r="4.0" fill="#BDBDBD" fill-opacity="0.6"/>
<circle cx="367.2" cy="360.3" r="4.0" fill="#BDBDBD" fill-opacity="0.6"/>
<circle cx="348.0" cy="372.6" r="3.7" fill="#BDBDBD" fill-opacity="0.6"/>
<circle cx="349.8" cy="389.7" r="4.2" fill="#BDBDBD" fill-opacity="0.6"/>
<circle cx="350.8" cy="390.8" r="4.0" fill="#BDBDBD" fill-opacity="0.6"/>
<circle cx="334.6" cy="383.2" r="4.1" fill="#BDBDBD" fill-opacity="0.6"/>
<circle cx="359.3" cy="374.5" r="3.6" fill="#BDBDBD" fill-opacity="0.6"/>
<circle cx="366.5" cy="351.8" r="3.6" fill="#BDBDBD" fill-opacity="0.6"/>
<circle cx="345.4" cy="356.6" r="3.8" fill="#BDBDBD" fill-opacity="0.6"/>
<circle cx="346.6" cy="356.9" r="4.1" fill="#BDBDBD" fill-opacity="0.6"/>
<circle cx="328.4" cy="375.1" r="3.7" fill="#BDBDBD" fill-opacity="0.6"/>
<circle cx="346.8" cy="388.8" r="3.7" fill="#BDBDBD" fill-opacity="0.6"/>
<circle cx="352.2" cy="371.6" r="3.6" fill="#BDBDBD" fill-opacity="0.6"/>
<circle cx="336.7" cy="365.0" r="4.1" fill="#BDBDBD" fill-opacity="0.6"/>
<circle cx="350.4" cy="376.9" r="3.5" fill="#BDBDBD" fill-opacity="0.6"/>
<circle cx="357.8" cy="361.6" r="3.3" fill="#BDBDBD" fill-opacity="0.6"/>
<circle cx="323.0" cy="362.1" r="3.9" fill="#BDBDBD" fill-opacity="0.6"/>
<circle cx="324.3" cy="360.0" r="4.1" fill="#BDBDBD" fill-opacity="0.6"/>
<circle cx="359.5" cy="356.4" r="3.9" fill="#BDBDBD" fill-opacity="0.6"/>
<circle cx="366.9" cy="366.0" r="3.8" fill="#BDBDBD" fill-opacity="0.6"/>
<circle cx="331.7" cy="380.7" r="4.0" fill="#BDBDBD" fill-opacity="0.6"/>
<circle cx="356.1" cy="390.5" r="3.5" fill="#BDBDBD" fill-opacity="0.6"/>
<circle cx="366.0" cy="353.0" r="3.8" fill="#BDBDBD" fill-opacity="0.6"/>
<circle cx="346.3" cy="367.6" r="3.3" fill="#BDBDBD" fill-opacity="0.6"/>
<circle cx="343.8" cy="389.9" r="3.3" fill="#BDBDBD" fill-opacity="0.6"/>
<circle cx="368.4" cy="371.5" r="3.6" fill="#BDBDBD" fill-opacity="0.6"/>
<circle cx="346.8" cy="379.6" r="3.7" fill="#BDBDBD" fill-opacity="0.6"/>
<circle cx="354.2" cy="390.1" r="3.6" fill="#BDBDBD" fill-opacity="0.6"/>
<circle cx="330.7" cy="374.7" r="3.3" fill="#BDBDBD" fill-opacity="0.6"/>
<circle cx="345.9" cy="375.6" r="3.9" fill="#BDBDBD" fill-opacity="0.6"/>
<circle cx="324.6" cy="358.3" r="3.7" fill="#BDBDBD" fill-opacity="0.6"/>
<circle cx="329.8" cy="371.7" r="3.4" fill="#BDBDBD" fill-opacity="0.6"/>
<circle cx="355.7" cy="368.2" r="3.5" fill="#BDBDBD" fill-opacity="0.6"/>
<circle cx="335.8" cy="368.7" r="3.6" fill="#BDBDBD" fill-opacity="0.6"/>
<circle cx="344.1" cy="373.9" r="3.4" fill="#BDBDBD" fill-opacity="0.6"/>
<circle cx="349.2" cy="381.9" r="3.3" fill="#BDBDBD" fill-opacity="0.6"/>
<circle cx="355.9" cy="390.9" r="4.1" fill="#BDBDBD" fill-opacity="0.6"/>
<circle cx="338.2" cy="380.1" r="4.2" fill="#BDBDBD" fill-opacity="0.6"/>
<circle cx="366.2" cy="354.7" r="3.9" fill="#BDBDBD" fill-opacity="0.6"/>
<circle cx="352.3" cy="382.2" r="4.1" fill="#BDBDBD" fill-opacity="0.6"/>
<circle cx="336.0" cy="364.7" r="3.6" fill="#BDBDBD" fill-opacity="0.6"/>
<circle cx="350.6" cy="378.1" r="4.0" fill="#BDBDBD" fill-opacity="0.6"/>
<circle cx="353.7" cy="374.3" r="3.4" fill="#BDBDBD" fill-opacity="0.6"/>
<circle cx="336.9" cy="380.9" r="3.9" fill="#BDBDBD" fill-opacity="0.6"/>
<circle cx="370.8" cy="360.2" r="3.8" fill="#BDBDBD" fill-opacity="0.6"/>
<circle cx="357.3" cy="387.5" r="4.1" fill="#BDBDBD" fill-opacity="0.6"/>
<circle cx="326.4" cy="351.6" r="3.3" fill="#BDBDBD" fill-opacity="0.6"/>
<circle cx="343.3" cy="361.1" r="4.0" fill="#BDBDBD" fill-opacity="0.6"/>
<circle cx="330.5" cy="375.6" r="3.3" fill="#BDBDBD" fill-opacity="0.6"/>
<circle cx="327.6" cy="372.2" r="3.7" fill="#BDBDBD" fill-opacity="0.6"/>
<circle cx="355.2" cy="353.5" r="4.2" fill="#BDBDBD" fill-opacity="0.6"/>
<circle cx="353.7" cy="372.6" r="3.2" fill="#BDBDBD" fill-opacity="0.6"/>
<circle cx="346.2" cy="365.3" r="3.4" fill="#BDBDBD" fill-opacity="0.6"/>
<circle cx="339.2" cy="358.6" r="3.5" fill="#BDBDBD" fill-opacity="0.6"/>
<circle cx="360.4" cy="380.5" r="3.5" fill="#BDBDBD" fill-opacity="0.6"/>
<circle cx="328.5" cy="353.0" r="3.3" fill="#BDBDBD" fill-opacity="0.6"/>
<circle cx="352.1" cy="383.2" r="4.1" fill="#BDBDBD" fill-opacity="0.6"/>
<circle cx="338.0" cy="381.5" r="4.0" fill="#BDBDBD" fill-opacity="0.6"/>
<circle cx="335.5" cy="367.4" r="3.6" fill="#BDBDBD" fill-opacity="0.6"/>
<circle cx="344.0" cy="383.2" r="3.6" fill="#BDBDBD" fill-opacity="0.6"/>
<circle cx="368.5" cy="376.8" r="3.8" fill="#BDBDBD" fill-opacity="0.6"/>
<circle cx="349.6" cy="363.3" r="3.2" fill="#BDBDBD" fill-opacity="0.6"/>
<circle cx="363.4" cy="380.6" r="3.2" fill="#BDBDBD" fill-opacity="0.6"/>
<circle cx="340.9" cy="367.5" r="4.1" fill="#BDBDBD" fill-opacity="0.6"/>
<circle cx="365.0" cy="354.0" r="3.5" fill="#BDBDBD" fill-opacity="0.6"/>
<circle cx="326.7" cy="353.2" r="3.7" fill="#BDBDBD" fill-opacity="0.6"/>
<circle cx="347.0" cy="373.1" r="4.1" fill="#BDBDBD" fill-opacity="0.6"/>
<circle cx="339.7" cy="378.1" r="4.2" fill="#BDBDBD" fill-opacity="0.6"/>
<circle cx="333.5" cy="381.8" r="3.7" fill="#BDBDBD" fill-opacity="0.6"/>
<circle cx="355.0" cy="358.7" r="3.4" fill="#BDBDBD" fill-opacity="0.6"/>
<circle cx="346.9" cy="339.1" r="3.5" fill="#BDBDBD" fill-opacity="0.6"/>
<circle cx="352.0" cy="348.1" r="4.1" fill="#BDBDBD" fill-opacity="0.6"/>
<circle cx="344.9" cy="342.0" r="4.1" fill="#BDBDBD" fill-opacity="0.6"/>
<circle cx="352.4" cy="343.0" r="3.4" fill="#BDBDBD" fill-opacity="0.6"/>
<circle cx="344.5" cy="343.1" r="4.0" fill="#BDBDBD" fill-opacity="0.6"/>
<circle cx="350.4" cy="347.9" r="3.6" fill="#BDBDBD" fill-opacity="0.6"/>
<circle cx="355.2" cy="350.9" r="3.7" fill="#BDBDBD" fill-opacity="0.6"/>
<circle cx="348.7" cy="350.8" r="3.4" fill="#BDBDBD" fill-opacity="0.6"/>
<circle cx="347.0" cy="349.2" r="4.1" fill="#BDBDBD" fill-opacity="0.6"/>
<circle cx="348.2" cy="342.4" r="4.2" fill="#BDBDBD" fill-opacity="0.6"/>
<circle cx="354.6" cy="351.1" r="3.4" fill="#BDBDBD" fill-opacity="0.6"/>
<circle cx="347.7" cy="341.5" r="3.8" fill="#BDBDBD" fill-opacity="0.6"/>
<circle cx="347.7" cy="343.1" r="3.4" fill="#BDBDBD" fill-opacity="0.6"/>
<circle cx="348.0" cy="343.5" r="4.1" fill="#BDBDBD" fill-opacity="0.6"/>
<circle cx="350.3" cy="340.7" r="3.3" fill="#BDBDBD" fill-opacity="0.6"/>
<circle cx="350.0" cy="349.2" r="3.3" fill="#BDBDBD" fill-opacity="0.6"/>
<circle cx="350.3" cy="349.7" r="3.9" fill="#BDBDBD" fill-opacity="0.6"/>
<circle cx="352.9" cy="340.5" r="3.5" fill="#BDBDBD" fill-opacity="0.6"/>
<circle cx="346.7" cy="350.3" r="4.1" fill="#BDBDBD" fill-opacity="0.6"/>
<circle cx="349.7" cy="338.3" r="4.1" fill="#BDBDBD" fill-opacity="0.6"/>
<circle cx="350.4" cy="345.6" r="3.9" fill="#BDBDBD" fill-opacity="0.6"/>
<circle cx="351.5" cy="351.5" r="3.3" fill="#BDBDBD" fill-opacity="0.6"/>
<circle cx="343.8" cy="349.3" r="3.9" fill="#BDBDBD" fill-opacity="0.6"/>
<circle cx="353.2" cy="345.7" r="4.1" fill="#BDBDBD" fill-opacity="0.6"/>
<circle cx="344.1" cy="339.2" r="3.6" fill="#BDBDBD" fill-opacity="0.6"/>
<circle cx="354.7" cy="348.3" r="3.3" fill="#BDBDBD" fill-opacity="0.6"/>
<circle cx="351.2" cy="339.2" r="3.4" fill="#BDBDBD" fill-opacity="0.6"/>
<circle cx="352.7" cy="340.0" r="3.5" fill="#BDBDBD" fill-opacity="0.6"/>
<circle cx="346.2" cy="347.1" r="3.9" fill="#BDBDBD" fill-opacity="0.6"/>
<circle cx="352.9" cy="341.1" r="3.4" fill="#BDBDBD" fill-opacity="0.6"/>
<circle cx="352.9" cy="345.3" r="3.4" fill="#BDBDBD" fill-opacity="0.6"/>
<circle cx="347.4" cy="343.5" r="3.4" fill="#BDBDBD" fill-opacity="0.6"/>
<circle cx="351.7" cy="351.6" r="3.9" fill="#BDBDBD" fill-opacity="0.6"/>
<circle cx="350.0" cy="344.9" r="4.0" fill="#BDBDBD" fill-opacity="0.6"/>
<circle cx="352.2" cy="348.1" r="3.6" fill="#BDBDBD" fill-opacity="0.6"/>
<circle cx="348.3" cy="350.8" r="3.9" fill="#BDBDBD" fill-opacity="0.6"/>
<circle cx="351.7" cy="349.6" r="4.1" fill="#BDBDBD" fill-opacity="0.6"/>
<circle cx="353.5" cy="349.9" r="3.8" fill="#BDBDBD" fill-opacity="0.6"/>
<circle cx="354.6" cy="349.7" r="3.4" fill="#BDBDBD" fill-opacity="0.6"/>
<circle cx="351.3" cy="351.4" r="3.5" fill="#BDBDBD" fill-opacity="0.6"/>
<circle cx="294.2" cy="362.1" r="4.1" fill="#BDBDBD" fill-opacity="0.6"/>
<circle cx="297.3" cy="375.9" r="3.9" fill="#BDBDBD" fill-opacity="0.6"/>
<circle cx="306.0" cy="374.9" r="3.5" fill="#BDBDBD" fill-opacity="0.6"/>
<circle cx="307.6" cy="384.9" r="3.8" fill="#BDBDBD" fill-opacity="0.6"/>
<circle cx="312.5" cy="354.2" r="3.3" fill="#BDBDBD" fill-opacity="0.6"/>
<circle cx="315.5" cy="369.6" r="4.2" fill="#BDBDBD" fill-opacity="0.6"/>
<circle cx="386.4" cy="359.7" r="3.6" fill="#BDBDBD" fill-opacity="0.6"/>
<circle cx="384.5" cy="369.6" r="3.7" fill="#BDBDBD" fill-opacity="0.6"/>
<circle cx="372.6" cy="384.3" r="3.7" fill="#BDBDBD" fill-opacity="0.6"/>
<circle cx="377.6" cy="376.5" r="3.2" fill="#BDBDBD" fill-opacity="0.6"/>
<circle cx="353.6" cy="281.9" r="3.8" fill="#BDBDBD" fill-opacity="0.6"/>
<circle cx="354.5" cy="325.7" r="3.5" fill="#BDBDBD" fill-opacity="0.6"/>
<circle cx="310.0" cy="360.0" r="3.5" fill="#BDBDBD" fill-opacity="0.6"/>
<circle cx="318.0" cy="378.0" r="4.0" fill="#BDBDBD" fill-opacity="0.6"/>
<circle cx="380.0" cy="364.0" r="3.3" fill="#BDBDBD" fill-opacity="0.6"/>
<circle cx="381.0" cy="378.0" r="3.5" fill="#BDBDBD" fill-opacity="0.6"/>
<circle cx="389.0" cy="352.0" r="4.0" fill="#BDBDBD" fill-opacity="0.6"/>
<circle cx="330.3" cy="228.9" r="4.2" fill="#15487E" fill-opacity="0.6"/>
<circle cx="319.4" cy="247.6" r="4.1" fill="#15487E" fill-opacity="0.6"/>
<circle cx="331.1" cy="254.0" r="3.9" fill="#15487E" fill-opacity="0.6"/>
<circle cx="319.4" cy="261.1" r="4.1" fill="#15487E" fill-opacity="0.6"/>
<circle cx="297.4" cy="279.5" r="3.8" fill="#15487E" fill-opacity="0.6"/>
<circle cx="305.0" cy="323.8" r="3.8" fill="#15487E" fill-opacity="0.6"/>
<circle cx="320.0" cy="260.7" r="3.6" fill="#15487E" fill-opacity="0.6"/>
<circle cx="326.4" cy="265.0" r="4.0" fill="#15487E" fill-opacity="0.6"/>
<circle cx="334.3" cy="265.7" r="4.0" fill="#15487E" fill-opacity="0.6"/>
<circle cx="336.4" cy="269.3" r="3.9" fill="#15487E" fill-opacity="0.6"/>
<circle cx="332.0" cy="268.6" r="3.4" fill="#15487E" fill-opacity="0.6"/>
<circle cx="327.9" cy="273.6" r="4.0" fill="#15487E" fill-opacity="0.6"/>
<circle cx="335.7" cy="274.3" r="3.8" fill="#15487E" fill-opacity="0.6"/>
<circle cx="328.6" cy="280.0" r="4.0" fill="#15487E" fill-opacity="0.6"/>
<circle cx="337.1" cy="281.4" r="4.0" fill="#15487E" fill-opacity="0.6"/>
<circle cx="320.0" cy="286.4" r="4.3" fill="#15487E" fill-opacity="0.6"/>
<circle cx="325.0" cy="285.7" r="3.6" fill="#15487E" fill-opacity="0.6"/>
<circle cx="341.4" cy="303.6" r="3.9" fill="#15487E" fill-opacity="0.6"/>
<circle cx="338.0" cy="288.0" r="4.4" fill="#15487E" fill-opacity="0.6"/>
<circle cx="331.0" cy="287.0" r="4.1" fill="#15487E" fill-opacity="0.6"/>
<circle cx="334.0" cy="292.0" r="3.7" fill="#15487E" fill-opacity="0.6"/>
<circle cx="327.8" cy="344.2" r="4.1" fill="#15487E" fill-opacity="0.6"/>
<circle cx="326.0" cy="327.2" r="4.4" fill="#15487E" fill-opacity="0.6"/>
<circle cx="341.3" cy="300.5" r="3.8" fill="#15487E" fill-opacity="0.6"/>
<circle cx="331.3" cy="351.1" r="4.3" fill="#15487E" fill-opacity="0.6"/>
<circle cx="329.8" cy="312.5" r="3.5" fill="#15487E" fill-opacity="0.6"/>
<circle cx="332.0" cy="297.8" r="4.4" fill="#15487E" fill-opacity="0.6"/>
<circle cx="333.1" cy="346.9" r="3.9" fill="#15487E" fill-opacity="0.6"/>
<circle cx="329.3" cy="320.4" r="3.6" fill="#15487E" fill-opacity="0.6"/>
<circle cx="337.4" cy="319.5" r="4.2" fill="#15487E" fill-opacity="0.6"/>
<circle cx="332.1" cy="329.2" r="4.0" fill="#15487E" fill-opacity="0.6"/>
<circle cx="335.5" cy="304.9" r="4.3" fill="#15487E" fill-opacity="0.6"/>
<circle cx="340.6" cy="329.0" r="4.2" fill="#15487E" fill-opacity="0.6"/>
<circle cx="337.3" cy="347.1" r="4.2" fill="#15487E" fill-opacity="0.6"/>
<circle cx="334.1" cy="347.5" r="3.9" fill="#15487E" fill-opacity="0.6"/>
<circle cx="330.9" cy="344.6" r="4.4" fill="#15487E" fill-opacity="0.6"/>
<circle cx="337.4" cy="310.7" r="3.5" fill="#15487E" fill-opacity="0.6"/>
<circle cx="327.0" cy="309.3" r="4.3" fill="#15487E" fill-opacity="0.6"/>
<circle cx="326.7" cy="331.0" r="4.1" fill="#15487E" fill-opacity="0.6"/>
<circle cx="332.0" cy="325.0" r="3.7" fill="#15487E" fill-opacity="0.6"/>
<circle cx="333.8" cy="351.1" r="4.2" fill="#15487E" fill-opacity="0.6"/>
<circle cx="333.4" cy="315.2" r="3.9" fill="#15487E" fill-opacity="0.6"/>
<circle cx="325.9" cy="302.6" r="3.9" fill="#15487E" fill-opacity="0.6"/>
<circle cx="322.8" cy="348.0" r="4.3" fill="#15487E" fill-opacity="0.6"/>
<circle cx="330.8" cy="330.5" r="3.6" fill="#15487E" fill-opacity="0.6"/>
<circle cx="327.5" cy="333.9" r="3.7" fill="#15487E" fill-opacity="0.6"/>
<circle cx="323.9" cy="308.7" r="4.0" fill="#15487E" fill-opacity="0.6"/>
<circle cx="333.3" cy="299.6" r="3.5" fill="#15487E" fill-opacity="0.6"/>
<circle cx="337.5" cy="327.5" r="4.0" fill="#15487E" fill-opacity="0.6"/>
<circle cx="325.3" cy="344.5" r="4.2" fill="#15487E" fill-opacity="0.6"/>
<circle cx="323.3" cy="341.1" r="3.9" fill="#15487E" fill-opacity="0.6"/>
<circle cx="334.3" cy="340.9" r="3.6" fill="#15487E" fill-opacity="0.6"/>
<circle cx="327.5" cy="328.6" r="4.2" fill="#15487E" fill-opacity="0.6"/>
<circle cx="324.2" cy="324.4" r="4.3" fill="#15487E" fill-opacity="0.6"/>
<circle cx="325.8" cy="306.9" r="4.2" fill="#15487E" fill-opacity="0.6"/>
<circle cx="325.5" cy="343.8" r="3.9" fill="#15487E" fill-opacity="0.6"/>
<circle cx="338.3" cy="317.1" r="4.3" fill="#15487E" fill-opacity="0.6"/>
<circle cx="323.7" cy="309.6" r="4.2" fill="#15487E" fill-opacity="0.6"/>
<circle cx="329.4" cy="335.7" r="3.6" fill="#15487E" fill-opacity="0.6"/>
<circle cx="340.9" cy="345.5" r="3.8" fill="#15487E" fill-opacity="0.6"/>
<circle cx="331.8" cy="351.0" r="3.5" fill="#15487E" fill-opacity="0.6"/>
<circle cx="341.2" cy="311.6" r="3.4" fill="#15487E" fill-opacity="0.6"/>
<circle cx="331.2" cy="348.2" r="3.7" fill="#15487E" fill-opacity="0.6"/>
<circle cx="323.2" cy="312.9" r="4.3" fill="#15487E" fill-opacity="0.6"/>
<circle cx="339.4" cy="344.4" r="4.2" fill="#15487E" fill-opacity="0.6"/>
<circle cx="330.0" cy="348.3" r="3.5" fill="#15487E" fill-opacity="0.6"/>
<circle cx="330.6" cy="341.7" r="3.6" fill="#15487E" fill-opacity="0.6"/>
<circle cx="323.2" cy="350.2" r="3.8" fill="#15487E" fill-opacity="0.6"/>
<circle cx="337.0" cy="291.8" r="4.2" fill="#15487E" fill-opacity="0.6"/>
<circle cx="326.9" cy="313.8" r="4.0" fill="#15487E" fill-opacity="0.6"/>
<circle cx="333.0" cy="343.9" r="4.3" fill="#15487E" fill-opacity="0.6"/>
<circle cx="331.3" cy="344.4" r="3.5" fill="#15487E" fill-opacity="0.6"/>
<circle cx="329.4" cy="297.5" r="4.4" fill="#15487E" fill-opacity="0.6"/>
<circle cx="341.1" cy="339.8" r="3.6" fill="#15487E" fill-opacity="0.6"/>
<circle cx="323.3" cy="322.9" r="4.0" fill="#15487E" fill-opacity="0.6"/>
<circle cx="334.8" cy="336.1" r="4.3" fill="#15487E" fill-opacity="0.6"/>
<circle cx="329.0" cy="350.7" r="4.1" fill="#15487E" fill-opacity="0.6"/>
<circle cx="338.9" cy="316.8" r="3.6" fill="#15487E" fill-opacity="0.6"/>
<circle cx="339.3" cy="324.3" r="4.1" fill="#15487E" fill-opacity="0.6"/>
<circle cx="330.0" cy="332.6" r="3.8" fill="#15487E" fill-opacity="0.6"/>
<circle cx="329.7" cy="305.1" r="3.4" fill="#15487E" fill-opacity="0.6"/>
<circle cx="326.6" cy="310.1" r="3.7" fill="#15487E" fill-opacity="0.6"/>
<circle cx="326.0" cy="339.2" r="3.7" fill="#15487E" fill-opacity="0.6"/>
<circle cx="325.6" cy="327.1" r="4.0" fill="#15487E" fill-opacity="0.6"/>
<circle cx="326.6" cy="346.0" r="3.7" fill="#15487E" fill-opacity="0.6"/>
<circle cx="328.4" cy="332.3" r="4.0" fill="#15487E" fill-opacity="0.6"/>
<circle cx="341.4" cy="333.6" r="4.1" fill="#15487E" fill-opacity="0.6"/>
<circle cx="338.9" cy="317.9" r="3.6" fill="#15487E" fill-opacity="0.6"/>
<circle cx="329.8" cy="345.9" r="3.5" fill="#15487E" fill-opacity="0.6"/>
<circle cx="335.6" cy="350.3" r="4.1" fill="#15487E" fill-opacity="0.6"/>
<circle cx="327.7" cy="338.4" r="3.9" fill="#15487E" fill-opacity="0.6"/>
<circle cx="326.0" cy="351.3" r="3.5" fill="#15487E" fill-opacity="0.6"/>
<circle cx="330.0" cy="343.4" r="3.5" fill="#15487E" fill-opacity="0.6"/>
<circle cx="336.1" cy="298.2" r="4.3" fill="#15487E" fill-opacity="0.6"/>
<circle cx="329.4" cy="343.1" r="4.0" fill="#15487E" fill-opacity="0.6"/>
<circle cx="340.3" cy="347.9" r="3.8" fill="#15487E" fill-opacity="0.6"/>
<circle cx="337.0" cy="338.6" r="3.6" fill="#15487E" fill-opacity="0.6"/>
<circle cx="339.7" cy="314.6" r="4.4" fill="#15487E" fill-opacity="0.6"/>
<circle cx="328.6" cy="351.3" r="4.1" fill="#15487E" fill-opacity="0.6"/>
<circle cx="324.1" cy="337.2" r="4.1" fill="#15487E" fill-opacity="0.6"/>
<circle cx="328.7" cy="301.8" r="3.8" fill="#15487E" fill-opacity="0.6"/>
<circle cx="332.4" cy="310.9" r="3.7" fill="#15487E" fill-opacity="0.6"/>
<circle cx="330.0" cy="350.7" r="3.8" fill="#15487E" fill-opacity="0.6"/>
<circle cx="323.3" cy="344.5" r="3.5" fill="#15487E" fill-opacity="0.6"/>
<circle cx="333.8" cy="348.0" r="4.0" fill="#15487E" fill-opacity="0.6"/>
<circle cx="328.4" cy="351.2" r="3.8" fill="#15487E" fill-opacity="0.6"/>
<circle cx="332.8" cy="334.9" r="4.2" fill="#15487E" fill-opacity="0.6"/>
<circle cx="335.9" cy="348.5" r="3.8" fill="#15487E" fill-opacity="0.6"/>
<circle cx="336.3" cy="343.5" r="3.9" fill="#15487E" fill-opacity="0.6"/>
<circle cx="325.3" cy="318.9" r="3.9" fill="#15487E" fill-opacity="0.6"/>
<circle cx="327.8" cy="345.9" r="4.3" fill="#15487E" fill-opacity="0.6"/>
<circle cx="330.2" cy="315.4" r="3.7" fill="#15487E" fill-opacity="0.6"/>
<circle cx="339.0" cy="337.1" r="4.1" fill="#15487E" fill-opacity="0.6"/>
<circle cx="328.0" cy="345.1" r="3.6" fill="#15487E" fill-opacity="0.6"/>
<circle cx="326.6" cy="339.3" r="4.0" fill="#15487E" fill-opacity="0.6"/>
<circle cx="323.0" cy="351.0" r="3.7" fill="#15487E" fill-opacity="0.6"/>
<circle cx="333.3" cy="321.5" r="4.3" fill="#15487E" fill-opacity="0.6"/>
<circle cx="341.0" cy="307.9" r="3.7" fill="#15487E" fill-opacity="0.6"/>
<circle cx="335.2" cy="341.7" r="4.3" fill="#15487E" fill-opacity="0.6"/>
<circle cx="326.6" cy="298.6" r="4.1" fill="#15487E" fill-opacity="0.6"/>
<circle cx="335.2" cy="317.2" r="3.9" fill="#15487E" fill-opacity="0.6"/>
<circle cx="339.0" cy="295.5" r="4.3" fill="#15487E" fill-opacity="0.6"/>
<circle cx="334.5" cy="344.7" r="3.8" fill="#15487E" fill-opacity="0.6"/>
<circle cx="330.6" cy="349.9" r="4.1" fill="#15487E" fill-opacity="0.6"/>
<circle cx="323.6" cy="336.7" r="4.0" fill="#15487E" fill-opacity="0.6"/>
<circle cx="328.7" cy="337.3" r="3.8" fill="#15487E" fill-opacity="0.6"/>
<circle cx="327.8" cy="330.5" r="3.5" fill="#15487E" fill-opacity="0.6"/>
<circle cx="330.1" cy="347.7" r="3.8" fill="#15487E" fill-opacity="0.6"/>
<circle cx="325.7" cy="331.8" r="3.7" fill="#15487E" fill-opacity="0.6"/>
<circle cx="327.1" cy="318.9" r="3.8" fill="#15487E" fill-opacity="0.6"/>
<circle cx="329.0" cy="349.8" r="4.4" fill="#15487E" fill-opacity="0.6"/>
<circle cx="325.4" cy="335.0" r="3.7" fill="#15487E" fill-opacity="0.6"/>
<circle cx="335.8" cy="324.8" r="4.1" fill="#15487E" fill-opacity="0.6"/>
<circle cx="335.8" cy="326.8" r="4.1" fill="#15487E" fill-opacity="0.6"/>
<circle cx="329.9" cy="351.3" r="3.6" fill="#15487E" fill-opacity="0.6"/>
<circle cx="323.7" cy="338.3" r="3.8" fill="#15487E" fill-opacity="0.6"/>
<circle cx="323.5" cy="336.1" r="3.5" fill="#15487E" fill-opacity="0.6"/>
<circle cx="333.6" cy="330.6" r="4.3" fill="#15487E" fill-opacity="0.6"/>
<circle cx="328.7" cy="332.2" r="3.7" fill="#15487E" fill-opacity="0.6"/>
<circle cx="322.9" cy="343.8" r="3.8" fill="#15487E" fill-opacity="0.6"/>
<circle cx="339.4" cy="339.2" r="3.7" fill="#15487E" fill-opacity="0.6"/>
<circle cx="327.5" cy="326.0" r="4.2" fill="#15487E" fill-opacity="0.6"/>
<circle cx="326.0" cy="318.7" r="4.3" fill="#15487E" fill-opacity="0.6"/>
<circle cx="334.2" cy="332.2" r="4.0" fill="#15487E" fill-opacity="0.6"/>
<circle cx="329.4" cy="295.5" r="3.9" fill="#15487E" fill-opacity="0.6"/>
<circle cx="340.4" cy="325.3" r="3.5" fill="#15487E" fill-opacity="0.6"/>
<circle cx="334.4" cy="310.8" r="4.3" fill="#15487E" fill-opacity="0.6"/>
<circle cx="330.3" cy="322.2" r="3.5" fill="#15487E" fill-opacity="0.6"/>
<circle cx="327.7" cy="335.4" r="3.8" fill="#15487E" fill-opacity="0.6"/>
<circle cx="339.2" cy="306.2" r="3.8" fill="#15487E" fill-opacity="0.6"/>
<circle cx="339.8" cy="337.3" r="4.1" fill="#15487E" fill-opacity="0.6"/>
<circle cx="325.1" cy="351.1" r="4.1" fill="#15487E" fill-opacity="0.6"/>
<circle cx="328.4" cy="329.8" r="3.7" fill="#15487E" fill-opacity="0.6"/>
<circle cx="341.1" cy="338.5" r="4.3" fill="#15487E" fill-opacity="0.6"/>
<circle cx="326.2" cy="348.0" r="4.3" fill="#15487E" fill-opacity="0.6"/>
<circle cx="335.4" cy="344.9" r="3.4" fill="#15487E" fill-opacity="0.6"/>
<circle cx="322.5" cy="344.7" r="4.0" fill="#15487E" fill-opacity="0.6"/>
<circle cx="330.0" cy="327.4" r="3.9" fill="#15487E" fill-opacity="0.6"/>
<circle cx="331.9" cy="344.5" r="3.8" fill="#15487E" fill-opacity="0.6"/>
<circle cx="332.9" cy="320.0" r="3.9" fill="#15487E" fill-opacity="0.6"/>
<circle cx="333.2" cy="321.9" r="3.7" fill="#15487E" fill-opacity="0.6"/>
<circle cx="340.9" cy="306.0" r="4.1" fill="#15487E" fill-opacity="0.6"/>
<circle cx="329.1" cy="339.9" r="4.0" fill="#15487E" fill-opacity="0.6"/>
<circle cx="328.5" cy="301.4" r="4.4" fill="#15487E" fill-opacity="0.6"/>
<circle cx="335.7" cy="315.2" r="4.4" fill="#15487E" fill-opacity="0.6"/>
<circle cx="340.8" cy="317.4" r="4.4" fill="#15487E" fill-opacity="0.6"/>
<circle cx="325.5" cy="306.6" r="3.8" fill="#15487E" fill-opacity="0.6"/>
<circle cx="331.8" cy="322.1" r="4.2" fill="#15487E" fill-opacity="0.6"/>
<circle cx="329.5" cy="326.1" r="4.0" fill="#15487E" fill-opacity="0.6"/>
<circle cx="336.7" cy="342.3" r="4.1" fill="#15487E" fill-opacity="0.6"/>
<circle cx="327.0" cy="328.1" r="4.4" fill="#15487E" fill-opacity="0.6"/>
<circle cx="328.7" cy="344.0" r="3.5" fill="#15487E" fill-opacity="0.6"/>
<circle cx="332.3" cy="347.0" r="3.9" fill="#15487E" fill-opacity="0.6"/>
<circle cx="323.7" cy="348.8" r="3.8" fill="#15487E" fill-opacity="0.6"/>
<circle cx="324.4" cy="350.4" r="4.1" fill="#15487E" fill-opacity="0.6"/>
<circle cx="324.6" cy="316.0" r="3.6" fill="#15487E" fill-opacity="0.6"/>
<circle cx="337.2" cy="333.3" r="4.4" fill="#15487E" fill-opacity="0.6"/>
<circle cx="325.6" cy="331.5" r="3.6" fill="#15487E" fill-opacity="0.6"/>
<circle cx="339.0" cy="303.1" r="3.8" fill="#15487E" fill-opacity="0.6"/>
<circle cx="327.3" cy="350.8" r="3.5" fill="#15487E" fill-opacity="0.6"/>
<circle cx="337.6" cy="329.8" r="3.8" fill="#15487E" fill-opacity="0.6"/>
<circle cx="336.1" cy="336.8" r="4.1" fill="#15487E" fill-opacity="0.6"/>
<circle cx="336.1" cy="343.9" r="3.5" fill="#15487E" fill-opacity="0.6"/>
<circle cx="328.8" cy="340.3" r="3.6" fill="#15487E" fill-opacity="0.6"/>
<circle cx="338.5" cy="311.8" r="4.0" fill="#15487E" fill-opacity="0.6"/>
<circle cx="333.3" cy="306.2" r="4.0" fill="#15487E" fill-opacity="0.6"/>
<circle cx="335.9" cy="335.1" r="4.1" fill="#15487E" fill-opacity="0.6"/>
<circle cx="338.3" cy="322.0" r="3.7" fill="#15487E" fill-opacity="0.6"/>
<circle cx="324.9" cy="308.5" r="4.2" fill="#15487E" fill-opacity="0.6"/>
<circle cx="335.2" cy="337.6" r="4.1" fill="#15487E" fill-opacity="0.6"/>
<circle cx="326.0" cy="344.8" r="4.2" fill="#15487E" fill-opacity="0.6"/>
<circle cx="333.6" cy="351.4" r="3.5" fill="#15487E" fill-opacity="0.6"/>
<circle cx="340.9" cy="296.7" r="3.9" fill="#15487E" fill-opacity="0.6"/>
<circle cx="335.6" cy="348.6" r="3.4" fill="#15487E" fill-opacity="0.6"/>
<circle cx="334.5" cy="335.2" r="4.3" fill="#15487E" fill-opacity="0.6"/>
<circle cx="340.2" cy="336.5" r="4.3" fill="#15487E" fill-opacity="0.6"/>
<circle cx="323.4" cy="292.5" r="4.3" fill="#15487E" fill-opacity="0.6"/>
<circle cx="324.7" cy="315.4" r="3.4" fill="#15487E" fill-opacity="0.6"/>
<circle cx="327.9" cy="351.0" r="3.8" fill="#15487E" fill-opacity="0.6"/>
<circle cx="341.4" cy="314.0" r="3.9" fill="#15487E" fill-opacity="0.6"/>
<circle cx="328.8" cy="349.0" r="3.9" fill="#15487E" fill-opacity="0.6"/>
<circle cx="332.8" cy="351.2" r="3.5" fill="#15487E" fill-opacity="0.6"/>
<circle cx="329.6" cy="331.4" r="4.2" fill="#15487E" fill-opacity="0.6"/>
<circle cx="337.7" cy="341.2" r="3.7" fill="#15487E" fill-opacity="0.6"/>
<circle cx="327.9" cy="305.4" r="3.9" fill="#15487E" fill-opacity="0.6"/>
<circle cx="334.2" cy="336.8" r="3.5" fill="#15487E" fill-opacity="0.6"/>
<circle cx="341.1" cy="311.3" r="4.0" fill="#15487E" fill-opacity="0.6"/>
<circle cx="335.7" cy="336.9" r="3.5" fill="#15487E" fill-opacity="0.6"/>
<circle cx="337.7" cy="327.3" r="3.5" fill="#15487E" fill-opacity="0.6"/>
<circle cx="325.8" cy="348.1" r="3.9" fill="#15487E" fill-opacity="0.6"/>
<circle cx="340.2" cy="349.4" r="3.7" fill="#15487E" fill-opacity="0.6"/>
<circle cx="331.8" cy="343.9" r="4.2" fill="#15487E" fill-opacity="0.6"/>
<circle cx="328.6" cy="349.0" r="3.6" fill="#15487E" fill-opacity="0.6"/>
<circle cx="333.3" cy="351.3" r="3.8" fill="#15487E" fill-opacity="0.6"/>
<circle cx="334.4" cy="348.2" r="3.5" fill="#15487E" fill-opacity="0.6"/>
<circle cx="326.8" cy="342.9" r="3.6" fill="#15487E" fill-opacity="0.6"/>
<circle cx="329.5" cy="331.4" r="3.9" fill="#15487E" fill-opacity="0.6"/>
<circle cx="323.5" cy="343.6" r="4.0" fill="#15487E" fill-opacity="0.6"/>
<circle cx="339.5" cy="350.5" r="3.9" fill="#15487E" fill-opacity="0.6"/>
<circle cx="324.0" cy="341.2" r="4.3" fill="#15487E" fill-opacity="0.6"/>
<circle cx="331.7" cy="346.8" r="3.5" fill="#15487E" fill-opacity="0.6"/>
<circle cx="326.3" cy="291.8" r="4.3" fill="#15487E" fill-opacity="0.6"/>
<circle cx="331.7" cy="303.0" r="3.6" fill="#15487E" fill-opacity="0.6"/>
<circle cx="337.8" cy="335.5" r="4.4" fill="#15487E" fill-opacity="0.6"/>
<circle cx="323.6" cy="336.6" r="3.9" fill="#15487E" fill-opacity="0.6"/>
<circle cx="335.0" cy="327.0" r="3.8" fill="#15487E" fill-opacity="0.6"/>
<circle cx="327.8" cy="322.0" r="4.0" fill="#15487E" fill-opacity="0.6"/>
<circle cx="338.9" cy="296.9" r="4.3" fill="#15487E" fill-opacity="0.6"/>
<circle cx="330.9" cy="292.0" r="4.4" fill="#15487E" fill-opacity="0.6"/>
<circle cx="336.3" cy="305.8" r="3.8" fill="#15487E" fill-opacity="0.6"/>
<circle cx="323.0" cy="347.1" r="3.4" fill="#15487E" fill-opacity="0.6"/>
<circle cx="324.8" cy="347.3" r="3.6" fill="#15487E" fill-opacity="0.6"/>
<circle cx="329.3" cy="350.3" r="4.2" fill="#15487E" fill-opacity="0.6"/>
<circle cx="328.4" cy="312.3" r="4.1" fill="#15487E" fill-opacity="0.6"/>
<circle cx="322.7" cy="329.4" r="4.1" fill="#15487E" fill-opacity="0.6"/>
<circle cx="340.7" cy="345.7" r="3.6" fill="#15487E" fill-opacity="0.6"/>
<circle cx="332.5" cy="351.4" r="3.9" fill="#15487E" fill-opacity="0.6"/>
<circle cx="337.6" cy="307.8" r="3.4" fill="#15487E" fill-opacity="0.6"/>
<circle cx="330.1" cy="313.7" r="3.5" fill="#15487E" fill-opacity="0.6"/>
<circle cx="338.2" cy="308.3" r="3.7" fill="#15487E" fill-opacity="0.6"/>
<circle cx="341.2" cy="311.1" r="4.4" fill="#15487E" fill-opacity="0.6"/>
<circle cx="340.6" cy="349.6" r="4.0" fill="#15487E" fill-opacity="0.6"/>
<circle cx="335.9" cy="336.2" r="4.2" fill="#15487E" fill-opacity="0.6"/>
<circle cx="339.8" cy="344.0" r="3.4" fill="#15487E" fill-opacity="0.6"/>
<circle cx="333.5" cy="351.3" r="3.8" fill="#15487E" fill-opacity="0.6"/>
<circle cx="329.9" cy="345.0" r="3.5" fill="#15487E" fill-opacity="0.6"/>
<circle cx="335.0" cy="338.0" r="3.7" fill="#15487E" fill-opacity="0.6"/>
<circle cx="329.4" cy="307.7" r="3.5" fill="#15487E" fill-opacity="0.6"/>
<circle cx="329.2" cy="320.9" r="4.3" fill="#15487E" fill-opacity="0.6"/>
<circle cx="339.7" cy="342.6" r="3.7" fill="#15487E" fill-opacity="0.6"/>
<circle cx="324.3" cy="340.6" r="3.9" fill="#15487E" fill-opacity="0.6"/>
<circle cx="336.6" cy="339.9" r="4.1" fill="#15487E" fill-opacity="0.6"/>
<circle cx="336.6" cy="345.7" r="4.3" fill="#15487E" fill-opacity="0.6"/>
<circle cx="335.4" cy="327.3" r="4.3" fill="#15487E" fill-opacity="0.6"/>
<circle cx="324.5" cy="347.0" r="4.0" fill="#15487E" fill-opacity="0.6"/>
<circle cx="329.2" cy="348.3" r="3.9" fill="#15487E" fill-opacity="0.6"/>
<circle cx="322.7" cy="334.5" r="4.3" fill="#15487E" fill-opacity="0.6"/>
<circle cx="330.2" cy="330.1" r="3.8" fill="#15487E" fill-opacity="0.6"/>
<circle cx="332.7" cy="340.6" r="3.7" fill="#15487E" fill-opacity="0.6"/>
<circle cx="326.4" cy="295.7" r="4.1" fill="#15487E" fill-opacity="0.6"/>
<circle cx="328.6" cy="301.9" r="3.7" fill="#15487E" fill-opacity="0.6"/>
<circle cx="319.4" cy="309.0" r="3.8" fill="#15487E" fill-opacity="0.6"/>
<circle cx="320.9" cy="323.8" r="3.8" fill="#15487E" fill-opacity="0.6"/>
<circle cx="320.8" cy="314.1" r="3.9" fill="#15487E" fill-opacity="0.6"/>
<circle cx="317.2" cy="336.5" r="3.8" fill="#15487E" fill-opacity="0.6"/>
<circle cx="315.7" cy="316.6" r="3.8" fill="#15487E" fill-opacity="0.6"/>
<circle cx="318.9" cy="347.6" r="3.9" fill="#15487E" fill-opacity="0.6"/>
<circle cx="316.6" cy="312.4" r="3.4" fill="#15487E" fill-opacity="0.6"/>
<circle cx="316.8" cy="349.5" r="4.2" fill="#15487E" fill-opacity="0.6"/>
<circle cx="315.5" cy="333.2" r="3.5" fill="#15487E" fill-opacity="0.6"/>
<circle cx="317.0" cy="333.6" r="3.9" fill="#15487E" fill-opacity="0.6"/>
<circle cx="315.9" cy="332.3" r="3.9" fill="#15487E" fill-opacity="0.6"/>
<circle cx="320.3" cy="343.4" r="3.8" fill="#15487E" fill-opacity="0.6"/>
<circle cx="318.6" cy="327.2" r="3.6" fill="#15487E" fill-opacity="0.6"/>
<circle cx="318.2" cy="309.3" r="3.5" fill="#15487E" fill-opacity="0.6"/>
<circle cx="381.5" cy="230.0" r="3.9" fill="#B8223A" fill-opacity="0.6"/>
<circle cx="384.4" cy="230.0" r="4.2" fill="#B8223A" fill-opacity="0.6"/>
<circle cx="373.6" cy="263.2" r="3.5" fill="#B8223A" fill-opacity="0.6"/>
<circle cx="366.7" cy="270.7" r="3.5" fill="#B8223A" fill-opacity="0.6"/>
<circle cx="369.8" cy="288.6" r="3.7" fill="#B8223A" fill-opacity="0.6"/>
<circle cx="366.0" cy="295.2" r="3.7" fill="#B8223A" fill-opacity="0.6"/>
<circle cx="375.5" cy="301.0" r="4.2" fill="#B8223A" fill-opacity="0.6"/>
<circle cx="373.6" cy="302.9" r="3.8" fill="#B8223A" fill-opacity="0.6"/>
<circle cx="355.5" cy="306.7" r="4.3" fill="#B8223A" fill-opacity="0.6"/>
<circle cx="360.2" cy="309.5" r="3.8" fill="#B8223A" fill-opacity="0.6"/>
<circle cx="366.0" cy="308.6" r="3.7" fill="#B8223A" fill-opacity="0.6"/>
<circle cx="366.9" cy="312.4" r="4.1" fill="#B8223A" fill-opacity="0.6"/>
<circle cx="371.7" cy="315.2" r="3.5" fill="#B8223A" fill-opacity="0.6"/>
<circle cx="355.5" cy="323.8" r="4.4" fill="#B8223A" fill-opacity="0.6"/>
<circle cx="363.1" cy="325.7" r="4.2" fill="#B8223A" fill-opacity="0.6"/>
<circle cx="391.7" cy="328.6" r="3.7" fill="#B8223A" fill-opacity="0.6"/>
<circle cx="358.3" cy="335.2" r="3.7" fill="#B8223A" fill-opacity="0.6"/>
<circle cx="364.0" cy="336.2" r="4.2" fill="#B8223A" fill-opacity="0.6"/>
<circle cx="370.7" cy="334.3" r="4.2" fill="#B8223A" fill-opacity="0.6"/>
<circle cx="356.4" cy="339.0" r="4.0" fill="#B8223A" fill-opacity="0.6"/>
<circle cx="366.0" cy="341.0" r="3.5" fill="#B8223A" fill-opacity="0.6"/>
<circle cx="369.8" cy="341.0" r="4.2" fill="#B8223A" fill-opacity="0.6"/>
<circle cx="353.6" cy="343.8" r="3.4" fill="#B8223A" fill-opacity="0.6"/>
<circle cx="360.2" cy="345.7" r="4.0" fill="#B8223A" fill-opacity="0.6"/>
<circle cx="383.1" cy="345.7" r="4.0" fill="#B8223A" fill-opacity="0.6"/>
<circle cx="366.0" cy="348.6" r="4.3" fill="#B8223A" fill-opacity="0.6"/>
<circle cx="359.3" cy="350.0" r="4.0" fill="#B8223A" fill-opacity="0.6"/>
<circle cx="404.6" cy="312.1" r="3.4" fill="#B8223A" fill-opacity="0.6"/>
<circle cx="359.2" cy="333.4" r="4.3" fill="#B8223A" fill-opacity="0.6"/>
<circle cx="360.8" cy="331.4" r="4.2" fill="#B8223A" fill-opacity="0.6"/>
<circle cx="364.5" cy="337.5" r="4.0" fill="#B8223A" fill-opacity="0.6"/>
<circle cx="354.1" cy="335.6" r="3.4" fill="#B8223A" fill-opacity="0.6"/>
<circle cx="367.5" cy="326.2" r="4.1" fill="#B8223A" fill-opacity="0.6"/>
<circle cx="362.3" cy="348.6" r="3.8" fill="#B8223A" fill-opacity="0.6"/>
<circle cx="359.1" cy="340.1" r="4.1" fill="#B8223A" fill-opacity="0.6"/>
<circle cx="359.2" cy="333.1" r="4.4" fill="#B8223A" fill-opacity="0.6"/>
<circle cx="362.5" cy="339.9" r="4.3" fill="#B8223A" fill-opacity="0.6"/>
<circle cx="358.4" cy="337.7" r="3.5" fill="#B8223A" fill-opacity="0.6"/>
</g>
<rect x="280.6" y="220.6" width="134.09999999999997" height="178.4" fill="none" stroke="#888" stroke-width="0.9"/>
<line x1="278.6" y1="391.30" x2="280.6" y2="391.30" stroke="#555" stroke-width="0.6"/>
<text x="277.60" y="393.10" font-size="5.2" fill="#4D4D4D" text-anchor="end">0</text>
<line x1="278.6" y1="332.50" x2="280.6" y2="332.50" stroke="#555" stroke-width="0.6"/>
<text x="277.60" y="334.30" font-size="5.2" fill="#4D4D4D" text-anchor="end">2</text>
<line x1="278.6" y1="273.70" x2="280.6" y2="273.70" stroke="#555" stroke-width="0.6"/>
<text x="277.60" y="275.50" font-size="5.2" fill="#4D4D4D" text-anchor="end">4</text>
<line x1="287.20" y1="399.0" x2="287.20" y2="401.0" stroke="#555" stroke-width="0.6"/>
<text x="287.20" y="406.60" font-size="5.2" fill="#4D4D4D" text-anchor="middle">−5.0</text>
<line x1="317.40" y1="399.0" x2="317.40" y2="401.0" stroke="#555" stroke-width="0.6"/>
<text x="317.40" y="406.60" font-size="5.2" fill="#4D4D4D" text-anchor="middle">−2.5</text>
<line x1="347.60" y1="399.0" x2="347.60" y2="401.0" stroke="#555" stroke-width="0.6"/>
<text x="347.60" y="406.60" font-size="5.2" fill="#4D4D4D" text-anchor="middle">0.0</text>
<line x1="377.80" y1="399.0" x2="377.80" y2="401.0" stroke="#555" stroke-width="0.6"/>
<text x="377.80" y="406.60" font-size="5.2" fill="#4D4D4D" text-anchor="middle">2.5</text>
<line x1="408.00" y1="399.0" x2="408.00" y2="401.0" stroke="#555" stroke-width="0.6"/>
<text x="408.00" y="406.60" font-size="5.2" fill="#4D4D4D" text-anchor="middle">5.0</text>
<text x="348.8" y="416.5" font-size="7.6" fill="#111" text-anchor="middle">log<tspan font-size="5" dy="1.8">2</tspan><tspan dy="-1.8">(Fold Change)</tspan></text>
<text x="267.6" y="304.9" font-size="7.6" fill="#111" text-anchor="middle" transform="rotate(-90 267.6 304.9)">-log<tspan font-size="5" dy="1.8">10</tspan><tspan dy="-1.8">(</tspan><tspan font-style="italic">P</tspan>-value)</text>
<line x1="326.4" y1="258.0" x2="335.7" y2="294.3" stroke="#111" stroke-width="0.55"/>
<line x1="300" y1="272.5" x2="327.9" y2="287.9" stroke="#111" stroke-width="0.55"/>
<line x1="297.4" y1="280.5" x2="302.5" y2="288.0" stroke="#111" stroke-width="0.55"/>
<line x1="308.6" y1="310.7" x2="331.4" y2="302.1" stroke="#111" stroke-width="0.55"/>
<line x1="307.1" y1="333.0" x2="325.7" y2="319.3" stroke="#111" stroke-width="0.55"/>
<line x1="357.5" y1="270.0" x2="366" y2="303.8" stroke="#111" stroke-width="0.55"/>
<line x1="396.5" y1="289.0" x2="373.6" y2="302.5" stroke="#111" stroke-width="0.55"/>
<line x1="383.5" y1="306.5" x2="377.4" y2="301.9" stroke="#111" stroke-width="0.55"/>
<line x1="389.8" y1="317.5" x2="369.8" y2="311.4" stroke="#111" stroke-width="0.55"/>
<line x1="400.2" y1="338.5" x2="392.2" y2="328.9" stroke="#111" stroke-width="0.55"/>
<text x="278.20" y="256.60" font-size="5.6" fill="#111" text-anchor="start" stroke="#111" stroke-width="0.15" textLength="80.4" lengthAdjust="spacingAndGlyphs">Glycodeoxycholic Acid (hydrate)</text>
<text x="277.60" y="270.60" font-size="5.6" fill="#111" text-anchor="start" stroke="#111" stroke-width="0.15" textLength="38.1" lengthAdjust="spacingAndGlyphs">Nicotinuric Acid</text>
<text x="282.50" y="293.10" font-size="5.6" fill="#111" text-anchor="start" stroke="#111" stroke-width="0.15" textLength="35.4" lengthAdjust="spacingAndGlyphs">(±)5(6)-DiHET</text>
<text x="282.50" y="316.70" font-size="5.6" fill="#111" text-anchor="start" stroke="#111" stroke-width="0.15" textLength="54.6" lengthAdjust="spacingAndGlyphs">S-(Methyl)Glutathione</text>
<text x="293.90" y="338.80" font-size="5.6" fill="#111" text-anchor="start" stroke="#111" stroke-width="0.15" textLength="36.4" lengthAdjust="spacingAndGlyphs">Quinolinic acid</text>
<text x="345.30" y="268.90" font-size="5.6" fill="#111" text-anchor="start" stroke="#111" stroke-width="0.15" textLength="66.8" lengthAdjust="spacingAndGlyphs">Tauroursodeoxycholic acid</text>
<text x="375.30" y="287.30" font-size="5.6" fill="#111" text-anchor="start" stroke="#111" stroke-width="0.15" textLength="40.5" lengthAdjust="spacingAndGlyphs">Taurocholic acid</text>
<text x="383.90" y="309.90" font-size="5.6" fill="#111" text-anchor="start" stroke="#111" stroke-width="0.15" textLength="62.1" lengthAdjust="spacingAndGlyphs">2-Methylbutyroylcarnitine</text>
<text x="363.90" y="322.30" font-size="5.6" fill="#111" text-anchor="start" stroke="#111" stroke-width="0.15" textLength="56.4" lengthAdjust="spacingAndGlyphs">Taurodeoxycholic Acid</text>
<text x="377.40" y="328.10" font-size="5.6" fill="#111" text-anchor="start" stroke="#111" stroke-width="0.15" textLength="31.1" lengthAdjust="spacingAndGlyphs">(sodium salt)</text>
<text x="391.80" y="344.10" font-size="5.6" fill="#111" text-anchor="start" stroke="#111" stroke-width="0.15" textLength="24.2" lengthAdjust="spacingAndGlyphs">Spermine</text>
<text x="425.40" y="266.90" font-size="6.9" fill="#111" text-anchor="start">DE_Meta</text>
<circle cx="430.5" cy="276.4" r="1.4" fill="#C42A3F"/>
<text x="439.30" y="278.30" font-size="5.6" fill="#111" text-anchor="start">UP:43</text>
<circle cx="430.5" cy="286.9" r="1.4" fill="#134A8E"/>
<text x="439.30" y="288.80" font-size="5.6" fill="#111" text-anchor="start">DW:346</text>
<circle cx="430.5" cy="297.3" r="1.4" fill="#BDBDBD"/>
<text x="439.30" y="299.20" font-size="5.6" fill="#111" text-anchor="start">NoDiff: 1,238</text>
<text x="425.40" y="322.90" font-size="6.7" fill="#111" text-anchor="start">VIP</text>
<circle cx="430.5" cy="332" r="3.0" fill="#000"/>
<text x="439.00" y="334.00" font-size="5.8" fill="#111" text-anchor="start">0.5</text>
<circle cx="430.5" cy="343.1" r="3.8" fill="#000"/>
<text x="439.00" y="345.10" font-size="5.8" fill="#111" text-anchor="start">1.0</text>
<circle cx="430.5" cy="354" r="4.4" fill="#000"/>
<text x="439.00" y="356.00" font-size="5.8" fill="#111" text-anchor="start">1.5</text>
<text x="498.60" y="207.10" font-size="15.5" fill="#000" text-anchor="start" stroke="#000" stroke-width="0.3">F</text>
<rect x="518.9" y="213.6" width="166.1" height="166.5" fill="#ECECEC"/>
<text x="521.30" y="219.00" font-size="5.8" fill="#111" text-anchor="start" stroke="#111" stroke-width="0.1" font-weight="bold" textLength="160.5" lengthAdjust="spacingAndGlyphs">Enrichment plot: MAP01100__METABOLIC_PATHWAYS</text>
<rect x="538.6" y="221.8" width="143.10000000000002" height="66.59999999999997" fill="#fff"/>
<line x1="538.6" y1="237.33" x2="681.7" y2="237.33" stroke="#CFCFCF" stroke-width="0.5" stroke-dasharray="1.5 1"/>
<line x1="538.6" y1="245.32" x2="681.7" y2="245.32" stroke="#CFCFCF" stroke-width="0.5" stroke-dasharray="1.5 1"/>
<line x1="538.6" y1="253.31" x2="681.7" y2="253.31" stroke="#CFCFCF" stroke-width="0.5" stroke-dasharray="1.5 1"/>
<line x1="538.6" y1="261.29" x2="681.7" y2="261.29" stroke="#CFCFCF" stroke-width="0.5" stroke-dasharray="1.5 1"/>
<line x1="538.6" y1="269.27" x2="681.7" y2="269.27" stroke="#CFCFCF" stroke-width="0.5" stroke-dasharray="1.5 1"/>
<line x1="538.6" y1="277.26" x2="681.7" y2="277.26" stroke="#CFCFCF" stroke-width="0.5" stroke-dasharray="1.5 1"/>
<line x1="538.6" y1="285.25" x2="681.7" y2="285.25" stroke="#CFCFCF" stroke-width="0.5" stroke-dasharray="1.5 1"/>
<line x1="559.64" y1="221.8" x2="559.64" y2="288.4" stroke="#CFCFCF" stroke-width="0.5" stroke-dasharray="1.5 1"/>
<line x1="580.68" y1="221.8" x2="580.68" y2="288.4" stroke="#CFCFCF" stroke-width="0.5" stroke-dasharray="1.5 1"/>
<line x1="601.72" y1="221.8" x2="601.72" y2="288.4" stroke="#CFCFCF" stroke-width="0.5" stroke-dasharray="1.5 1"/>
<line x1="622.76" y1="221.8" x2="622.76" y2="288.4" stroke="#CFCFCF" stroke-width="0.5" stroke-dasharray="1.5 1"/>
<line x1="643.80" y1="221.8" x2="643.80" y2="288.4" stroke="#CFCFCF" stroke-width="0.5" stroke-dasharray="1.5 1"/>
<line x1="664.84" y1="221.8" x2="664.84" y2="288.4" stroke="#CFCFCF" stroke-width="0.5" stroke-dasharray="1.5 1"/>
<line x1="538.6" y1="229.35" x2="681.7" y2="229.35" stroke="#666" stroke-width="0.7"/>
<path d="M538.6,226.4 L539.5,225.8 L540.5,226.2 L541.3,225.7 L542.0,225.8 L543.0,226.3 L544.0,226.0 L544.6,226.2 L545.2,226.4 L546.0,227.0 L547.0,227.0 L547.6,226.8 L548.2,227.6 L549.0,228.2 L550.0,229.6 L551.0,229.1 L551.8,228.8 L552.6,229.2 L553.5,228.6 L554.5,230.0 L555.3,229.9 L556.1,229.5 L556.8,230.5 L557.5,230.3 L558.2,231.4 L558.9,231.7 L559.6,232.4 L560.3,233.7 L561.0,233.6 L561.6,234.2 L562.3,235.4 L563.0,235.8 L563.7,235.9 L564.5,237.0 L565.2,237.2 L566.0,237.8 L566.7,237.9 L567.4,239.3 L568.0,239.8 L568.7,240.8 L569.3,241.4 L570.0,241.6 L570.7,242.6 L571.5,243.3 L572.2,244.1 L573.0,244.9 L573.7,246.0 L574.4,247.1 L575.0,247.3 L575.7,248.6 L576.3,249.1 L577.0,249.8 L577.8,251.1 L578.5,251.6 L579.3,252.3 L580.0,253.3 L580.8,254.3 L581.5,254.6 L582.1,256.3 L582.8,256.3 L583.5,257.8 L584.1,258.8 L584.8,258.9 L585.5,260.5 L586.1,261.0 L586.9,262.1 L587.7,262.5 L588.5,263.4 L589.2,264.2 L589.9,265.5 L590.6,265.5 L591.3,266.6 L591.9,267.3 L592.6,267.8 L593.2,267.7 L593.9,268.2 L594.5,268.8 L595.2,269.5 L596.0,269.3 L596.8,270.3 L597.5,270.8 L598.1,271.2 L598.8,270.9 L599.4,272.2 L600.0,271.8 L600.6,272.5 L601.3,273.2 L601.9,273.9 L602.6,273.9 L603.3,274.9 L604.0,275.0 L604.8,275.2 L605.5,275.6 L606.3,275.8 L606.9,275.5 L607.6,275.3 L608.2,275.5 L608.8,275.8 L609.4,275.1 L610.0,275.0 L610.8,276.4 L611.5,276.5 L612.3,277.2 L613.0,277.8 L613.8,278.9 L614.5,279.7 L615.3,279.9 L616.0,280.4 L616.7,280.7 L617.5,282.1 L618.2,281.9 L619.0,282.7 L619.7,283.5 L620.5,283.3 L621.2,284.2 L621.9,284.7 L622.6,284.8 L623.2,284.5 L623.9,283.4 L624.5,283.2 L625.2,283.3 L626.0,284.3 L627.0,282.6 L627.7,282.6 L628.3,282.8 L629.0,282.5 L629.8,282.4 L630.6,281.6 L631.4,281.4 L632.1,281.8 L632.8,281.8 L633.5,281.8 L634.3,281.7 L635.0,281.2 L635.8,281.2 L636.5,281.4 L637.3,281.0 L638.0,280.4 L638.7,279.8 L639.5,279.2 L640.2,278.4 L640.8,278.5 L641.4,278.9 L642.0,278.8 L642.6,278.0 L643.2,278.0 L643.8,277.6 L644.6,275.6 L645.5,273.6 L646.1,272.9 L646.7,271.6 L647.3,271.1 L648.0,270.2 L648.8,270.0 L649.5,269.7 L650.2,268.7 L651.0,267.3 L651.7,266.9 L652.3,265.8 L652.9,264.9 L653.5,263.6 L654.4,263.0 L655.2,261.7 L655.8,262.4 L656.4,262.5 L657.0,263.2 L657.8,260.3 L658.5,257.8 L659.0,255.3 L659.6,253.4 L660.2,253.1 L660.9,252.7 L661.5,251.9 L662.4,251.6 L663.2,250.8 L663.9,248.2 L664.5,245.9 L665.1,243.7 L665.8,241.0 L666.4,240.4 L667.0,239.5 L667.7,239.8 L668.4,239.6 L669.1,237.6 L669.8,236.2 L670.5,235.1 L671.1,234.0 L671.7,232.6 L672.4,232.2 L673.0,231.1 L673.8,230.1 L674.6,228.9" fill="none" stroke="#1EEE1E" stroke-width="1.3" stroke-linejoin="round"/>
<rect x="538.6" y="221.8" width="143.10000000000002" height="66.59999999999997" fill="none" stroke="#777" stroke-width="0.5"/>
<text x="632.00" y="237.40" font-size="5.2" fill="#111" text-anchor="middle" stroke="#111" stroke-width="0.15" textLength="31.5" lengthAdjust="spacingAndGlyphs">NES = -1.311</text>
<text x="616.50" y="245.70" font-size="5.2" fill="#111" text-anchor="start" stroke="#111" stroke-width="0.15" textLength="23" lengthAdjust="spacingAndGlyphs"><tspan font-style="italic">P</tspan> = 0.012</text>
<text x="536.30" y="230.65" font-size="3.6" fill="#222" text-anchor="end" stroke="#222" stroke-width="0.12" textLength="7.2" lengthAdjust="spacingAndGlyphs">0.00</text>
<line x1="536.8" y1="229.35" x2="538.6" y2="229.35" stroke="#666" stroke-width="0.4"/>
<text x="536.30" y="238.63" font-size="3.6" fill="#222" text-anchor="end" stroke="#222" stroke-width="0.12" textLength="7.6" lengthAdjust="spacingAndGlyphs">-0.05</text>
<line x1="536.8" y1="237.33" x2="538.6" y2="237.33" stroke="#666" stroke-width="0.4"/>
<text x="536.30" y="246.62" font-size="3.6" fill="#222" text-anchor="end" stroke="#222" stroke-width="0.12" textLength="7.6" lengthAdjust="spacingAndGlyphs">-0.10</text>
<line x1="536.8" y1="245.32" x2="538.6" y2="245.32" stroke="#666" stroke-width="0.4"/>
<text x="536.30" y="254.61" font-size="3.6" fill="#222" text-anchor="end" stroke="#222" stroke-width="0.12" textLength="7.6" lengthAdjust="spacingAndGlyphs">-0.15</text>
<line x1="536.8" y1="253.31" x2="538.6" y2="253.31" stroke="#666" stroke-width="0.4"/>
<text x="536.30" y="262.59" font-size="3.6" fill="#222" text-anchor="end" stroke="#222" stroke-width="0.12" textLength="7.6" lengthAdjust="spacingAndGlyphs">-0.20</text>
<line x1="536.8" y1="261.29" x2="538.6" y2="261.29" stroke="#666" stroke-width="0.4"/>
<text x="536.30" y="270.57" font-size="3.6" fill="#222" text-anchor="end" stroke="#222" stroke-width="0.12" textLength="7.6" lengthAdjust="spacingAndGlyphs">-0.25</text>
<line x1="536.8" y1="269.27" x2="538.6" y2="269.27" stroke="#666" stroke-width="0.4"/>
<text x="536.30" y="278.56" font-size="3.6" fill="#222" text-anchor="end" stroke="#222" stroke-width="0.12" textLength="7.6" lengthAdjust="spacingAndGlyphs">-0.30</text>
<line x1="536.8" y1="277.26" x2="538.6" y2="277.26" stroke="#666" stroke-width="0.4"/>
<text x="536.30" y="286.55" font-size="3.6" fill="#222" text-anchor="end" stroke="#222" stroke-width="0.12" textLength="7.6" lengthAdjust="spacingAndGlyphs">-0.35</text>
<line x1="536.8" y1="285.25" x2="538.6" y2="285.25" stroke="#666" stroke-width="0.4"/>
<text x="525.30" y="257.10" font-size="3.6" fill="#333" text-anchor="middle" textLength="35.3" lengthAdjust="spacingAndGlyphs" transform="rotate(-90 525.30 257.10)">Enrichment score (ES)</text>
<rect x="538.6" y="288.4" width="143.10000000000002" height="27.400000000000034" fill="#fff"/>
<rect x="538.74" y="288.4" width="1.14" height="21.900000000000034" fill="rgb(140,140,140)"/>
<rect x="539.83" y="288.4" width="1.14" height="21.900000000000034" fill="rgb(190,190,190)"/>
<rect x="540.93" y="288.4" width="1.14" height="21.900000000000034" fill="rgb(130,130,130)"/>
<rect x="542.02" y="288.4" width="1.14" height="21.900000000000034" fill="rgb(110,110,110)"/>
<rect x="543.12" y="288.4" width="1.14" height="21.900000000000034" fill="rgb(200,200,200)"/>
<rect x="544.21" y="288.4" width="1.14" height="21.900000000000034" fill="rgb(120,120,120)"/>
<rect x="545.31" y="288.4" width="1.14" height="21.900000000000034" fill="rgb(240,240,240)"/>
<rect x="546.40" y="288.4" width="1.14" height="21.900000000000034" fill="rgb(130,130,130)"/>
<rect x="547.50" y="288.4" width="1.14" height="21.900000000000034" fill="rgb(230,230,230)"/>
<rect x="548.59" y="288.4" width="1.14" height="21.900000000000034" fill="rgb(100,100,100)"/>
<rect x="549.69" y="288.4" width="1.14" height="21.900000000000034" fill="rgb(60,60,60)"/>
<rect x="550.78" y="288.4" width="1.14" height="21.900000000000034" fill="rgb(90,90,90)"/>
<rect x="551.88" y="288.4" width="1.14" height="21.900000000000034" fill="rgb(20,20,20)"/>
<rect x="552.97" y="288.4" width="1.14" height="21.900000000000034" fill="rgb(110,110,110)"/>
<rect x="554.07" y="288.4" width="2.24" height="21.900000000000034" fill="rgb(120,120,120)"/>
<rect x="556.26" y="288.4" width="1.14" height="21.900000000000034" fill="rgb(100,100,100)"/>
<rect x="557.35" y="288.4" width="1.14" height="21.900000000000034" fill="rgb(240,240,240)"/>
<rect x="558.45" y="288.4" width="2.24" height="21.900000000000034" fill="rgb(110,110,110)"/>
<rect x="560.64" y="288.4" width="1.14" height="21.900000000000034" fill="rgb(200,200,200)"/>
<rect x="561.73" y="288.4" width="1.14" height="21.900000000000034" fill="rgb(120,120,120)"/>
<rect x="562.83" y="288.4" width="1.14" height="21.900000000000034" fill="rgb(90,90,90)"/>
<rect x="563.92" y="288.4" width="1.14" height="21.900000000000034" fill="rgb(110,110,110)"/>
<rect x="565.02" y="288.4" width="1.14" height="21.900000000000034" fill="rgb(30,30,30)"/>
<rect x="566.11" y="288.4" width="1.14" height="21.900000000000034" fill="rgb(120,120,120)"/>
<rect x="567.21" y="288.4" width="1.69" height="21.900000000000034" fill="rgb(250,250,250)"/>
<rect x="568.85" y="288.4" width="1.14" height="21.900000000000034" fill="rgb(130,130,130)"/>
<rect x="569.94" y="288.4" width="2.24" height="21.900000000000034" fill="rgb(140,140,140)"/>
<rect x="572.13" y="288.4" width="1.14" height="21.900000000000034" fill="rgb(90,90,90)"/>
<rect x="573.23" y="288.4" width="1.14" height="21.900000000000034" fill="rgb(20,20,20)"/>
<rect x="574.32" y="288.4" width="1.14" height="21.900000000000034" fill="rgb(120,120,120)"/>
<rect x="575.42" y="288.4" width="1.14" height="21.900000000000034" fill="rgb(60,60,60)"/>
<rect x="576.51" y="288.4" width="1.14" height="21.900000000000034" fill="rgb(110,110,110)"/>
<rect x="577.61" y="288.4" width="1.14" height="21.900000000000034" fill="rgb(180,180,180)"/>
<rect x="578.70" y="288.4" width="1.14" height="21.900000000000034" fill="rgb(30,30,30)"/>
<rect x="579.80" y="288.4" width="1.14" height="21.900000000000034" fill="rgb(240,240,240)"/>
<rect x="580.89" y="288.4" width="1.14" height="21.900000000000034" fill="rgb(140,140,140)"/>
<rect x="581.99" y="288.4" width="1.14" height="21.900000000000034" fill="rgb(200,200,200)"/>
<rect x="583.08" y="288.4" width="1.14" height="21.900000000000034" fill="rgb(150,150,150)"/>
<rect x="584.18" y="288.4" width="1.14" height="21.900000000000034" fill="rgb(200,200,200)"/>
<rect x="585.27" y="288.4" width="1.14" height="21.900000000000034" fill="rgb(230,230,230)"/>
<rect x="586.37" y="288.4" width="1.14" height="21.900000000000034" fill="rgb(140,140,140)"/>
<rect x="587.46" y="288.4" width="4.43" height="21.900000000000034" fill="rgb(130,130,130)"/>
<rect x="591.84" y="288.4" width="1.69" height="21.900000000000034" fill="rgb(10,10,10)"/>
<rect x="593.48" y="288.4" width="1.69" height="21.900000000000034" fill="rgb(120,120,120)"/>
<rect x="595.13" y="288.4" width="1.14" height="21.900000000000034" fill="rgb(60,60,60)"/>
<rect x="596.22" y="288.4" width="1.14" height="21.900000000000034" fill="rgb(140,140,140)"/>
<rect x="597.32" y="288.4" width="1.14" height="21.900000000000034" fill="rgb(20,20,20)"/>
<rect x="598.41" y="288.4" width="1.14" height="21.900000000000034" fill="rgb(70,70,70)"/>
<rect x="599.51" y="288.4" width="1.14" height="21.900000000000034" fill="rgb(120,120,120)"/>
<rect x="600.60" y="288.4" width="1.14" height="21.900000000000034" fill="rgb(200,200,200)"/>
<rect x="601.70" y="288.4" width="1.14" height="21.900000000000034" fill="rgb(140,140,140)"/>
<rect x="602.79" y="288.4" width="4.98" height="21.900000000000034" fill="rgb(130,130,130)"/>
<rect x="607.72" y="288.4" width="1.14" height="21.900000000000034" fill="rgb(50,50,50)"/>
<rect x="608.81" y="288.4" width="2.14" height="21.900000000000034" fill="rgb(130,130,130)"/>
<rect x="610.90" y="288.4" width="1.53" height="21.900000000000034" fill="rgb(120,120,120)"/>
<rect x="612.38" y="288.4" width="1.14" height="21.900000000000034" fill="rgb(200,200,200)"/>
<rect x="613.47" y="288.4" width="1.69" height="21.900000000000034" fill="rgb(250,250,250)"/>
<rect x="615.12" y="288.4" width="1.14" height="21.900000000000034" fill="rgb(130,130,130)"/>
<rect x="616.21" y="288.4" width="2.24" height="21.900000000000034" fill="rgb(60,60,60)"/>
<rect x="618.40" y="288.4" width="1.14" height="21.900000000000034" fill="rgb(130,130,130)"/>
<rect x="619.50" y="288.4" width="1.14" height="21.900000000000034" fill="rgb(210,210,210)"/>
<rect x="620.59" y="288.4" width="1.14" height="21.900000000000034" fill="rgb(120,120,120)"/>
<rect x="621.69" y="288.4" width="1.14" height="21.900000000000034" fill="rgb(200,200,200)"/>
<rect x="622.78" y="288.4" width="1.14" height="21.900000000000034" fill="rgb(100,100,100)"/>
<rect x="623.88" y="288.4" width="1.14" height="21.900000000000034" fill="rgb(10,10,10)"/>
<rect x="624.97" y="288.4" width="3.33" height="21.900000000000034" fill="rgb(80,80,80)"/>
<rect x="628.26" y="288.4" width="1.14" height="21.900000000000034" fill="rgb(40,40,40)"/>
<rect x="629.35" y="288.4" width="1.14" height="21.900000000000034" fill="rgb(200,200,200)"/>
<rect x="630.45" y="288.4" width="1.14" height="21.900000000000034" fill="rgb(100,100,100)"/>
<rect x="631.54" y="288.4" width="1.14" height="21.900000000000034" fill="rgb(210,210,210)"/>
<rect x="632.64" y="288.4" width="1.69" height="21.900000000000034" fill="rgb(110,110,110)"/>
<rect x="634.28" y="288.4" width="1.69" height="21.900000000000034" fill="rgb(180,180,180)"/>
<rect x="635.92" y="288.4" width="3.88" height="21.900000000000034" fill="rgb(120,120,120)"/>
<rect x="639.75" y="288.4" width="1.14" height="21.900000000000034" fill="rgb(20,20,20)"/>
<rect x="640.85" y="288.4" width="4.43" height="21.900000000000034" fill="rgb(130,130,130)"/>
<rect x="645.23" y="288.4" width="1.69" height="21.900000000000034" fill="rgb(20,20,20)"/>
<rect x="646.87" y="288.4" width="1.14" height="21.900000000000034" fill="rgb(130,130,130)"/>
<rect x="647.96" y="288.4" width="1.14" height="21.900000000000034" fill="rgb(230,230,230)"/>
<rect x="649.06" y="288.4" width="2.24" height="21.900000000000034" fill="rgb(110,110,110)"/>
<rect x="651.25" y="288.4" width="1.69" height="21.900000000000034" fill="rgb(130,130,130)"/>
<rect x="652.89" y="288.4" width="1.69" height="21.900000000000034" fill="rgb(180,180,180)"/>
<rect x="654.53" y="288.4" width="1.69" height="21.900000000000034" fill="rgb(140,140,140)"/>
<rect x="656.18" y="288.4" width="1.14" height="21.900000000000034" fill="rgb(200,200,200)"/>
<rect x="657.27" y="288.4" width="1.69" height="21.900000000000034" fill="rgb(20,20,20)"/>
<rect x="658.91" y="288.4" width="3.88" height="21.900000000000034" fill="rgb(120,120,120)"/>
<rect x="662.75" y="288.4" width="1.69" height="21.900000000000034" fill="rgb(90,90,90)"/>
<rect x="664.39" y="288.4" width="2.24" height="21.900000000000034" fill="rgb(10,10,10)"/>
<rect x="666.58" y="288.4" width="1.14" height="21.900000000000034" fill="rgb(130,130,130)"/>
<rect x="667.67" y="288.4" width="1.69" height="21.900000000000034" fill="rgb(250,250,250)"/>
<rect x="669.32" y="288.4" width="5.52" height="21.900000000000034" fill="rgb(120,120,120)"/>
<rect x="538.60" y="310.3" width="9.45" height="5.5" fill="rgb(236,58,68)"/>
<rect x="548.00" y="310.3" width="8.05" height="5.5" fill="rgb(232,70,80)"/>
<rect x="556.00" y="310.3" width="10.15" height="5.5" fill="rgb(226,98,112)"/>
<rect x="566.10" y="310.3" width="10.25" height="5.5" fill="rgb(240,188,225)"/>
<rect x="576.30" y="310.3" width="20.75" height="5.5" fill="rgb(208,206,242)"/>
<rect x="597.00" y="310.3" width="5.05" height="5.5" fill="rgb(192,190,240)"/>
<rect x="602.00" y="310.3" width="14.05" height="5.5" fill="rgb(200,198,242)"/>
<rect x="616.00" y="310.3" width="17.05" height="5.5" fill="rgb(118,116,234)"/>
<rect x="633.00" y="310.3" width="33.05" height="5.5" fill="rgb(100,94,228)"/>
<rect x="666.00" y="310.3" width="8.85" height="5.5" fill="rgb(40,24,200)"/>
<rect x="538.6" y="288.4" width="143.10000000000002" height="27.400000000000034" fill="none" stroke="#777" stroke-width="0.5"/>
<rect x="538.6" y="315.8" width="143.10000000000002" height="44.39999999999998" fill="#fff"/>
<line x1="538.6" y1="327.50" x2="681.7" y2="327.50" stroke="#CFCFCF" stroke-width="0.5" stroke-dasharray="1.5 1"/>
<line x1="538.6" y1="349.10" x2="681.7" y2="349.10" stroke="#CFCFCF" stroke-width="0.5" stroke-dasharray="1.5 1"/>
<line x1="559.64" y1="315.8" x2="559.64" y2="360.2" stroke="#CFCFCF" stroke-width="0.5" stroke-dasharray="1.5 1"/>
<line x1="580.68" y1="315.8" x2="580.68" y2="360.2" stroke="#CFCFCF" stroke-width="0.5" stroke-dasharray="1.5 1"/>
<line x1="601.72" y1="315.8" x2="601.72" y2="360.2" stroke="#CFCFCF" stroke-width="0.5" stroke-dasharray="1.5 1"/>
<line x1="622.76" y1="315.8" x2="622.76" y2="360.2" stroke="#CFCFCF" stroke-width="0.5" stroke-dasharray="1.5 1"/>
<line x1="643.80" y1="315.8" x2="643.80" y2="360.2" stroke="#CFCFCF" stroke-width="0.5" stroke-dasharray="1.5 1"/>
<line x1="664.84" y1="315.8" x2="664.84" y2="360.2" stroke="#CFCFCF" stroke-width="0.5" stroke-dasharray="1.5 1"/>
<line x1="577.6" y1="315.8" x2="577.6" y2="360.2" stroke="#AAA" stroke-width="0.5" stroke-dasharray="1 1"/>
<path d="M538.6,338.3 L538.7,319.5 L539.3,325.0 L540.3,329.0 L542.0,331.3 L543.8,332.6 L546.0,334.0 L548.1,334.9 L552.0,336.1 L556.9,337.0 L563.9,337.6 L570.0,338.0 L577.6,338.3 L590.0,340.0 L610.0,341.8 L630.0,343.3 L650.0,345.0 L660.0,346.3 L667.0,347.6 L671.0,349.3 L673.0,352.0 L674.2,358.0 L674.8,358.5 L674.8,338.3 Z" fill="#BDBDBD" stroke="#A8A8A8" stroke-width="0.3"/>
<rect x="538.6" y="315.8" width="143.10000000000002" height="44.39999999999998" fill="none" stroke="#777" stroke-width="0.5"/>
<text x="539.80" y="319.40" font-size="3.6" fill="#E02020" text-anchor="start" textLength="38.3" lengthAdjust="spacingAndGlyphs">GL (positively correlated)</text>
<text x="565.60" y="338.90" font-size="3.6" fill="#222" text-anchor="start" textLength="22.3" lengthAdjust="spacingAndGlyphs">Zero cross at 460</text>
<text x="610.10" y="358.10" font-size="3.6" fill="#2020E0" text-anchor="start" textLength="42.6" lengthAdjust="spacingAndGlyphs">GDH (negatively correlated)</text>
<text x="536.30" y="318.00" font-size="3.6" fill="#222" text-anchor="end" stroke="#222" stroke-width="0.12">5.0</text>
<line x1="536.8" y1="316.70" x2="538.6" y2="316.70" stroke="#666" stroke-width="0.4"/>
<text x="536.30" y="328.80" font-size="3.6" fill="#222" text-anchor="end" stroke="#222" stroke-width="0.12">2.5</text>
<line x1="536.8" y1="327.50" x2="538.6" y2="327.50" stroke="#666" stroke-width="0.4"/>
<text x="536.30" y="339.60" font-size="3.6" fill="#222" text-anchor="end" stroke="#222" stroke-width="0.12">0.0</text>
<line x1="536.8" y1="338.30" x2="538.6" y2="338.30" stroke="#666" stroke-width="0.4"/>
<text x="536.30" y="350.40" font-size="3.6" fill="#222" text-anchor="end" stroke="#222" stroke-width="0.12">-2.5</text>
<line x1="536.8" y1="349.10" x2="538.6" y2="349.10" stroke="#666" stroke-width="0.4"/>
<line x1="538.60" y1="360.2" x2="538.60" y2="361.4" stroke="#555" stroke-width="0.4"/>
<text x="538.60" y="364.10" font-size="3.0" fill="#333" text-anchor="middle">0</text>
<line x1="559.64" y1="360.2" x2="559.64" y2="361.4" stroke="#555" stroke-width="0.4"/>
<text x="559.64" y="364.10" font-size="3.0" fill="#333" text-anchor="middle">250</text>
<line x1="580.68" y1="360.2" x2="580.68" y2="361.4" stroke="#555" stroke-width="0.4"/>
<text x="580.68" y="364.10" font-size="3.0" fill="#333" text-anchor="middle">500</text>
<line x1="601.72" y1="360.2" x2="601.72" y2="361.4" stroke="#555" stroke-width="0.4"/>
<text x="601.72" y="364.10" font-size="3.0" fill="#333" text-anchor="middle">750</text>
<line x1="622.76" y1="360.2" x2="622.76" y2="361.4" stroke="#555" stroke-width="0.4"/>
<text x="622.76" y="364.10" font-size="3.0" fill="#333" text-anchor="middle">1,000</text>
<line x1="643.80" y1="360.2" x2="643.80" y2="361.4" stroke="#555" stroke-width="0.4"/>
<text x="643.80" y="364.10" font-size="3.0" fill="#333" text-anchor="middle">1,250</text>
<line x1="664.84" y1="360.2" x2="664.84" y2="361.4" stroke="#555" stroke-width="0.4"/>
<text x="664.84" y="364.10" font-size="3.0" fill="#333" text-anchor="middle">1,500</text>
<text x="587.90" y="368.80" font-size="4.1" fill="#222" text-anchor="start" textLength="44.5" lengthAdjust="spacingAndGlyphs">Rank in Ordered Dataset</text>
<text x="527.30" y="338.00" font-size="3.9" fill="#333" text-anchor="middle" textLength="77.5" lengthAdjust="spacingAndGlyphs" transform="rotate(-90 527.30 338.00)">Ranked list metric (log2_Ratio_of_Classes)</text>
<rect x="545.8" y="372.5" width="111.6" height="6.4" fill="#fff" stroke="#444" stroke-width="0.5"/>
<line x1="546.9" y1="375.8" x2="552.0" y2="375.8" stroke="#7CF07C" stroke-width="2.0"/>
<text x="553.00" y="377.10" font-size="4.0" fill="#222" text-anchor="start" textLength="32.0" lengthAdjust="spacingAndGlyphs">Enrichment profile</text>
<line x1="587.3" y1="375.8" x2="592.0" y2="375.8" stroke="#999" stroke-width="0.7"/>
<text x="593.20" y="377.10" font-size="4.0" fill="#222" text-anchor="start" textLength="7.0" lengthAdjust="spacingAndGlyphs">Hits</text>
<line x1="602.5" y1="375.8" x2="607.2" y2="375.8" stroke="#DDD" stroke-width="1.2"/>
<line x1="610.0" y1="375.8" x2="614.8" y2="375.8" stroke="#DDD" stroke-width="1.2"/>
<text x="616.30" y="377.10" font-size="4.0" fill="#222" text-anchor="start" textLength="39.4" lengthAdjust="spacingAndGlyphs">Ranking metric scores</text>
</svg>
</body></html>
